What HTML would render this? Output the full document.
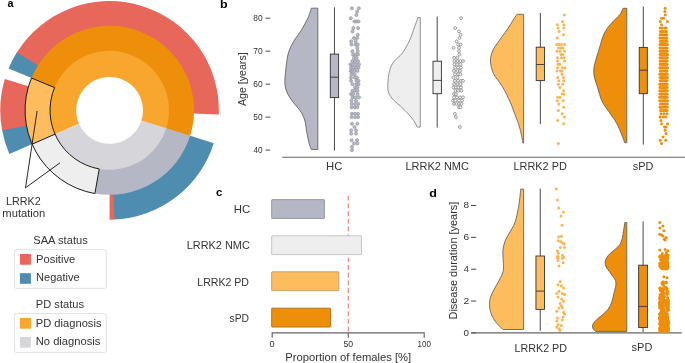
<!DOCTYPE html>
<html><head><meta charset="utf-8"><style>
html,body{margin:0;padding:0;background:#fff;}
svg{display:block;font-family:"Liberation Sans",sans-serif;will-change:transform;}
</style></head><body>
<svg width="685" height="363" viewBox="0 0 685 363">
<rect width="685" height="363" fill="#fff"/>
<path d="M213.79,143.22 A109.3,109.3 0 0 1 113.56,219.58 L112.59,193.29 A83.0,83.0 0 0 0 188.71,135.31 Z" fill="#4E8DB0" />
<path d="M114.51,219.54 A109.3,109.3 0 0 1 109.55,219.65 L109.55,193.35 A83.0,83.0 0 0 0 113.32,193.26 Z" fill="#E8675B" />
<path d="M9.39,154.11 A109.3,109.3 0 0 1 1.91,129.33 L27.81,124.76 A83.0,83.0 0 0 0 33.49,143.58 Z" fill="#4E8DB0" />
<path d="M2.08,130.27 A109.3,109.3 0 0 1 4.81,79.12 L30.01,86.64 A83.0,83.0 0 0 0 27.94,125.48 Z" fill="#E8675B" />
<path d="M8.57,68.52 A109.3,109.3 0 0 1 17.37,51.62 L39.55,65.75 A83.0,83.0 0 0 0 32.87,78.59 Z" fill="#4E8DB0" />
<path d="M16.86,52.43 A109.3,109.3 0 0 1 218.77,114.55 L192.49,113.54 A83.0,83.0 0 0 0 39.16,66.37 Z" fill="#E8675B" />
<path d="M190.36,135.06 A84.5,84.5 0 0 1 94.15,193.44 L98.98,167.38 A58.0,58.0 0 0 0 165.02,127.31 Z" fill="#B6B7C5" />
<path d="M94.88,193.57 A84.5,84.5 0 0 1 31.83,143.50 L56.20,133.11 A58.0,58.0 0 0 0 99.48,167.47 Z" fill="#EEEEEE" />
<path d="M32.12,144.18 A84.5,84.5 0 0 1 31.77,77.33 L56.16,87.69 A58.0,58.0 0 0 0 56.40,133.57 Z" fill="#FDBD5F" />
<path d="M31.48,78.01 A84.5,84.5 0 0 1 190.14,135.76 L164.87,127.79 A58.0,58.0 0 0 0 55.96,88.15 Z" fill="#EE8F0B" />
<path d="M55.03,134.17 A59.5,59.5 0 1 1 166.14,128.74 L141.32,120.67 A33.4,33.4 0 1 0 78.94,123.72 Z" fill="#F9A62F" />
<path d="M166.30,128.24 A59.5,59.5 0 0 1 55.03,134.17 L78.94,123.72 A33.4,33.4 0 0 0 141.40,120.39 Z" fill="#D6D6DA" />
<path d="M94.88,193.57 A84.5,84.5 0 0 1 31.48,78.01 L54.58,87.58 A59.5,59.5 0 0 0 99.22,168.95 Z" fill="none" stroke="#1a1a1a" stroke-width="1"/>
<line x1="55.03" y1="134.17" x2="32.12" y2="144.18" stroke="#1a1a1a" stroke-width="1"/>
<polyline points="37.1,111 25.5,187.8 60,162.8" fill="none" stroke="#1a1a1a" stroke-width="0.95"/>
<text x="6.02" y="204.5" font-size="10.8" textLength="34.62" lengthAdjust="spacingAndGlyphs" fill="#333">LRRK2</text>
<text x="2.36" y="217.3" font-size="10.8" textLength="42.97" lengthAdjust="spacingAndGlyphs" fill="#333">mutation</text>
<rect x="14.6" y="249.6" width="91.6" height="38.7" rx="1.5" fill="#fff" stroke="#E0E0E0" stroke-width="1"/>
<text x="33.20" y="243.8" font-size="10.8" textLength="54.60" lengthAdjust="spacingAndGlyphs" fill="#333">SAA status</text>
<rect x="19.9" y="254.0" width="11" height="10.7" fill="#E8675B"/>
<rect x="19.9" y="273.2" width="11" height="10.6" fill="#4E8DB0"/>
<text x="36.08" y="263" font-size="10.8" textLength="39.22" lengthAdjust="spacingAndGlyphs" fill="#333">Positive</text>
<text x="36.09" y="281" font-size="10.8" textLength="43.60" lengthAdjust="spacingAndGlyphs" fill="#333">Negative</text>
<rect x="14.6" y="313.6" width="91.6" height="38.7" rx="1.5" fill="#fff" stroke="#E0E0E0" stroke-width="1"/>
<text x="35.79" y="307.9" font-size="10.8" textLength="48.21" lengthAdjust="spacingAndGlyphs" fill="#333">PD status</text>
<rect x="19.9" y="317.9" width="11" height="10.8" fill="#F9A62F"/>
<rect x="19.9" y="336.9" width="11" height="10.8" fill="#D6D6DA"/>
<text x="35.79" y="327.3" font-size="10.8" textLength="65.72" lengthAdjust="spacingAndGlyphs" fill="#333">PD diagnosis</text>
<text x="35.78" y="345.1" font-size="10.8" textLength="64.62" lengthAdjust="spacingAndGlyphs" fill="#333">No diagnosis</text>
<text x="7.38" y="7.0" font-size="11.5" textLength="6.05" lengthAdjust="spacingAndGlyphs" fill="#000" font-weight="bold">a</text>
<text x="219.98" y="7.9" font-size="11.5" textLength="7.64" lengthAdjust="spacingAndGlyphs" fill="#000" font-weight="bold">b</text>
<text x="216.06" y="195.6" font-size="11.5" textLength="6.27" lengthAdjust="spacingAndGlyphs" fill="#000" font-weight="bold">c</text>
<text x="429.39" y="196.7" font-size="11.5" textLength="7.64" lengthAdjust="spacingAndGlyphs" fill="#000" font-weight="bold">d</text>
<line x1="265.5" y1="150.10" x2="270.2" y2="150.10" stroke="#333" stroke-width="0.9"/>
<text x="253.51" y="152.8" font-size="8.3" textLength="9.11" lengthAdjust="spacingAndGlyphs" fill="#333">40</text>
<line x1="265.5" y1="117.12" x2="270.2" y2="117.12" stroke="#333" stroke-width="0.9"/>
<text x="253.37" y="119.83" font-size="8.3" textLength="9.26" lengthAdjust="spacingAndGlyphs" fill="#333">50</text>
<line x1="265.5" y1="84.15" x2="270.2" y2="84.15" stroke="#333" stroke-width="0.9"/>
<text x="253.27" y="86.85" font-size="8.3" textLength="9.36" lengthAdjust="spacingAndGlyphs" fill="#333">60</text>
<line x1="265.5" y1="51.17" x2="270.2" y2="51.17" stroke="#333" stroke-width="0.9"/>
<text x="253.27" y="53.88" font-size="8.3" textLength="9.36" lengthAdjust="spacingAndGlyphs" fill="#333">70</text>
<line x1="265.5" y1="18.20" x2="270.2" y2="18.20" stroke="#333" stroke-width="0.9"/>
<text x="253.34" y="20.9" font-size="8.3" textLength="9.29" lengthAdjust="spacingAndGlyphs" fill="#333">80</text>
<text x="0" y="0" font-size="10.8" textLength="53.78" lengthAdjust="spacingAndGlyphs" fill="#333" transform="translate(245.6,106.12) rotate(-90)">Age [years]</text>
<line x1="282.3" y1="157.25" x2="685" y2="157.25" stroke="#666" stroke-width="1.2"/>
<text x="326.08" y="169.8" font-size="10.8" textLength="16.25" lengthAdjust="spacingAndGlyphs" fill="#333">HC</text>
<text x="405.50" y="169.8" font-size="10.8" textLength="63.42" lengthAdjust="spacingAndGlyphs" fill="#333">LRRK2 NMC</text>
<text x="513.51" y="169.8" font-size="10.8" textLength="53.32" lengthAdjust="spacingAndGlyphs" fill="#333">LRRK2 PD</text>
<text x="632.80" y="169.8" font-size="10.8" textLength="20.52" lengthAdjust="spacingAndGlyphs" fill="#333">sPD</text>
<path d="M311.40,8.15 C310.93,9.54 309.62,14.01 308.60,16.50 C307.58,18.99 306.58,20.70 305.30,23.10 C304.02,25.50 302.55,28.32 300.90,30.90 C299.25,33.48 297.05,36.03 295.40,38.60 C293.75,41.17 292.22,43.73 291.00,46.30 C289.78,48.87 288.83,51.25 288.10,54.00 C287.37,56.75 287.03,59.68 286.60,62.80 C286.17,65.92 285.78,69.83 285.50,72.70 C285.22,75.57 284.90,77.42 284.90,80.00 C284.90,82.58 284.85,85.55 285.50,88.20 C286.15,90.85 287.33,93.33 288.80,95.90 C290.27,98.47 292.47,101.20 294.30,103.60 C296.13,106.00 298.33,108.27 299.80,110.30 C301.27,112.33 302.18,113.78 303.10,115.80 C304.02,117.82 304.75,120.02 305.30,122.40 C305.85,124.78 305.93,127.35 306.40,130.10 C306.87,132.85 307.55,136.33 308.10,138.90 C308.65,141.47 309.15,143.73 309.70,145.50 C310.25,147.27 311.12,148.83 311.40,149.50 L317.8,149.50 L317.8,8.15 Z" fill="#B6B7C5" stroke="#555" stroke-width="0.8" stroke-linejoin="round"/>
<line x1="334.45" y1="7.3" x2="334.45" y2="150.6" stroke="#333" stroke-width="0.9"/><rect x="330.3" y="54.1" width="8.3" height="43.49999999999999" fill="#B6B7C5" stroke="#333" stroke-width="0.9"/><line x1="330.3" y1="77.2" x2="338.6" y2="77.2" stroke="#333" stroke-width="0.9"/>
<path d="M417.90,17.60 C417.33,19.20 415.93,23.30 414.50,27.20 C413.07,31.10 411.32,36.70 409.30,41.00 C407.28,45.30 404.98,49.55 402.40,53.00 C399.82,56.45 395.92,58.82 393.80,61.70 C391.68,64.58 390.68,66.87 389.70,70.30 C388.72,73.73 388.08,78.58 387.90,82.30 C387.72,86.02 387.62,89.62 388.60,92.60 C389.58,95.58 391.78,97.90 393.80,100.20 C395.82,102.50 398.12,103.93 400.70,106.40 C403.28,108.87 407.00,112.42 409.30,115.00 C411.60,117.58 413.18,119.88 414.50,121.90 C415.82,123.92 416.75,126.23 417.20,127.10 L420.3,127.10 L420.3,17.60 Z" fill="#EEEEEE" stroke="#777" stroke-width="0.8" stroke-linejoin="round"/>
<line x1="437.2" y1="16.6" x2="437.2" y2="127.5" stroke="#333" stroke-width="0.9"/><rect x="433.0" y="61.2" width="8.4" height="32.5" fill="#EEEEEE" stroke="#333" stroke-width="0.9"/><line x1="433.0" y1="80.4" x2="441.4" y2="80.4" stroke="#333" stroke-width="0.9"/>
<path d="M517.00,14.30 C516.32,15.33 514.45,18.08 512.90,20.50 C511.35,22.92 509.43,26.22 507.70,28.80 C505.97,31.38 504.22,33.60 502.50,36.00 C500.78,38.40 498.93,40.97 497.40,43.20 C495.87,45.43 494.40,47.15 493.30,49.40 C492.20,51.65 491.25,54.45 490.80,56.70 C490.35,58.95 490.37,60.67 490.60,62.90 C490.83,65.13 491.45,67.83 492.20,70.10 C492.95,72.37 493.88,74.48 495.10,76.50 C496.32,78.52 497.92,79.87 499.50,82.20 C501.08,84.53 503.07,87.73 504.60,90.50 C506.13,93.27 507.50,96.22 508.70,98.80 C509.90,101.38 510.77,103.42 511.80,106.00 C512.83,108.58 513.87,111.55 514.90,114.30 C515.93,117.05 517.07,119.75 518.00,122.50 C518.93,125.25 519.80,128.05 520.50,130.80 C521.20,133.55 521.82,136.95 522.20,139.00 C522.58,141.05 522.70,142.42 522.80,143.10 L523.6,143.10 L523.6,14.30 Z" fill="#FDBD5F" stroke="#555" stroke-width="0.8" stroke-linejoin="round"/>
<line x1="540.35" y1="13" x2="540.35" y2="124.2" stroke="#333" stroke-width="0.9"/><rect x="536.2" y="47.2" width="8.3" height="33.39999999999999" fill="#FDBD5F" stroke="#333" stroke-width="0.9"/><line x1="536.2" y1="64.5" x2="544.5" y2="64.5" stroke="#333" stroke-width="0.9"/>
<path d="M623.10,8.30 C622.58,9.33 621.55,12.43 620.00,14.50 C618.45,16.57 615.87,18.47 613.80,20.70 C611.73,22.93 609.32,25.50 607.60,27.90 C605.88,30.30 604.63,32.52 603.50,35.10 C602.37,37.68 601.67,40.63 600.80,43.40 C599.93,46.17 599.13,48.95 598.30,51.70 C597.47,54.45 596.48,57.50 595.80,59.90 C595.12,62.30 594.53,64.08 594.20,66.10 C593.87,68.12 593.73,69.97 593.80,72.00 C593.87,74.03 594.02,75.88 594.60,78.30 C595.18,80.72 596.33,83.40 597.30,86.50 C598.27,89.60 599.37,93.97 600.40,96.90 C601.43,99.83 602.13,101.70 603.50,104.10 C604.87,106.50 606.88,108.88 608.60,111.30 C610.32,113.72 612.25,116.18 613.80,118.60 C615.35,121.02 616.70,123.40 617.90,125.80 C619.10,128.20 620.07,130.77 621.00,133.00 C621.93,135.23 622.88,137.58 623.50,139.20 C624.12,140.82 624.50,142.12 624.70,142.70 L626.8,142.70 L626.8,8.30 Z" fill="#EE8F0B" stroke="#555" stroke-width="0.8" stroke-linejoin="round"/>
<line x1="643.3" y1="6.6" x2="643.3" y2="144.6" stroke="#333" stroke-width="0.9"/><rect x="639.25" y="47.4" width="8.1" height="46.300000000000004" fill="#EE8F0B" stroke="#333" stroke-width="0.9"/><line x1="639.25" y1="70.2" x2="647.35" y2="70.2" stroke="#333" stroke-width="0.9"/>
<circle cx="351.90" cy="8.31" r="1.55" fill="#B9BAC8" stroke="#8A8B98" stroke-width="0.6"/><circle cx="358.80" cy="8.31" r="1.55" fill="#B9BAC8" stroke="#8A8B98" stroke-width="0.6"/><circle cx="357.10" cy="11.60" r="1.55" fill="#B9BAC8" stroke="#8A8B98" stroke-width="0.6"/><circle cx="356.40" cy="14.90" r="1.55" fill="#B9BAC8" stroke="#8A8B98" stroke-width="0.6"/><circle cx="350.80" cy="18.20" r="1.55" fill="#B9BAC8" stroke="#8A8B98" stroke-width="0.6"/><circle cx="354.40" cy="21.50" r="1.55" fill="#B9BAC8" stroke="#8A8B98" stroke-width="0.6"/><circle cx="356.30" cy="21.50" r="1.55" fill="#B9BAC8" stroke="#8A8B98" stroke-width="0.6"/><circle cx="358.50" cy="21.50" r="1.55" fill="#B9BAC8" stroke="#8A8B98" stroke-width="0.6"/><circle cx="353.30" cy="28.09" r="1.55" fill="#B9BAC8" stroke="#8A8B98" stroke-width="0.6"/><circle cx="358.10" cy="28.09" r="1.55" fill="#B9BAC8" stroke="#8A8B98" stroke-width="0.6"/><circle cx="352.60" cy="31.39" r="1.55" fill="#B9BAC8" stroke="#8A8B98" stroke-width="0.6"/><circle cx="357.70" cy="34.69" r="1.55" fill="#B9BAC8" stroke="#8A8B98" stroke-width="0.6"/><circle cx="354.00" cy="37.98" r="1.55" fill="#B9BAC8" stroke="#8A8B98" stroke-width="0.6"/><circle cx="357.10" cy="37.98" r="1.55" fill="#B9BAC8" stroke="#8A8B98" stroke-width="0.6"/><circle cx="351.20" cy="41.28" r="1.55" fill="#B9BAC8" stroke="#8A8B98" stroke-width="0.6"/><circle cx="355.70" cy="41.28" r="1.55" fill="#B9BAC8" stroke="#8A8B98" stroke-width="0.6"/><circle cx="351.50" cy="44.58" r="1.55" fill="#B9BAC8" stroke="#8A8B98" stroke-width="0.6"/><circle cx="355.50" cy="44.58" r="1.55" fill="#B9BAC8" stroke="#8A8B98" stroke-width="0.6"/><circle cx="357.70" cy="44.58" r="1.55" fill="#B9BAC8" stroke="#8A8B98" stroke-width="0.6"/><circle cx="357.30" cy="47.88" r="1.55" fill="#B9BAC8" stroke="#8A8B98" stroke-width="0.6"/><circle cx="352.40" cy="51.17" r="1.55" fill="#B9BAC8" stroke="#8A8B98" stroke-width="0.6"/><circle cx="357.70" cy="51.17" r="1.55" fill="#B9BAC8" stroke="#8A8B98" stroke-width="0.6"/><circle cx="353.00" cy="54.47" r="1.55" fill="#B9BAC8" stroke="#8A8B98" stroke-width="0.6"/><circle cx="355.50" cy="54.47" r="1.55" fill="#B9BAC8" stroke="#8A8B98" stroke-width="0.6"/><circle cx="358.00" cy="54.47" r="1.55" fill="#B9BAC8" stroke="#8A8B98" stroke-width="0.6"/><circle cx="354.00" cy="57.77" r="1.55" fill="#B9BAC8" stroke="#8A8B98" stroke-width="0.6"/><circle cx="356.50" cy="57.77" r="1.55" fill="#B9BAC8" stroke="#8A8B98" stroke-width="0.6"/><circle cx="352.50" cy="61.07" r="1.55" fill="#B9BAC8" stroke="#8A8B98" stroke-width="0.6"/><circle cx="355.00" cy="61.07" r="1.55" fill="#B9BAC8" stroke="#8A8B98" stroke-width="0.6"/><circle cx="358.00" cy="61.07" r="1.55" fill="#B9BAC8" stroke="#8A8B98" stroke-width="0.6"/><circle cx="350.50" cy="64.36" r="1.55" fill="#B9BAC8" stroke="#8A8B98" stroke-width="0.6"/><circle cx="353.00" cy="64.36" r="1.55" fill="#B9BAC8" stroke="#8A8B98" stroke-width="0.6"/><circle cx="356.00" cy="64.36" r="1.55" fill="#B9BAC8" stroke="#8A8B98" stroke-width="0.6"/><circle cx="359.00" cy="64.36" r="1.55" fill="#B9BAC8" stroke="#8A8B98" stroke-width="0.6"/><circle cx="351.00" cy="67.66" r="1.55" fill="#B9BAC8" stroke="#8A8B98" stroke-width="0.6"/><circle cx="353.50" cy="67.66" r="1.55" fill="#B9BAC8" stroke="#8A8B98" stroke-width="0.6"/><circle cx="356.00" cy="67.66" r="1.55" fill="#B9BAC8" stroke="#8A8B98" stroke-width="0.6"/><circle cx="358.50" cy="67.66" r="1.55" fill="#B9BAC8" stroke="#8A8B98" stroke-width="0.6"/><circle cx="350.80" cy="70.96" r="1.55" fill="#B9BAC8" stroke="#8A8B98" stroke-width="0.6"/><circle cx="352.30" cy="70.96" r="1.55" fill="#B9BAC8" stroke="#8A8B98" stroke-width="0.6"/><circle cx="354.50" cy="70.96" r="1.55" fill="#B9BAC8" stroke="#8A8B98" stroke-width="0.6"/><circle cx="357.50" cy="70.96" r="1.55" fill="#B9BAC8" stroke="#8A8B98" stroke-width="0.6"/><circle cx="351.50" cy="74.26" r="1.55" fill="#B9BAC8" stroke="#8A8B98" stroke-width="0.6"/><circle cx="354.50" cy="74.26" r="1.55" fill="#B9BAC8" stroke="#8A8B98" stroke-width="0.6"/><circle cx="351.00" cy="77.55" r="1.55" fill="#B9BAC8" stroke="#8A8B98" stroke-width="0.6"/><circle cx="355.00" cy="77.55" r="1.55" fill="#B9BAC8" stroke="#8A8B98" stroke-width="0.6"/><circle cx="357.00" cy="77.55" r="1.55" fill="#B9BAC8" stroke="#8A8B98" stroke-width="0.6"/><circle cx="351.00" cy="80.85" r="1.55" fill="#B9BAC8" stroke="#8A8B98" stroke-width="0.6"/><circle cx="356.50" cy="80.85" r="1.55" fill="#B9BAC8" stroke="#8A8B98" stroke-width="0.6"/><circle cx="358.50" cy="80.85" r="1.55" fill="#B9BAC8" stroke="#8A8B98" stroke-width="0.6"/><circle cx="352.50" cy="84.15" r="1.55" fill="#B9BAC8" stroke="#8A8B98" stroke-width="0.6"/><circle cx="356.50" cy="84.15" r="1.55" fill="#B9BAC8" stroke="#8A8B98" stroke-width="0.6"/><circle cx="358.50" cy="84.15" r="1.55" fill="#B9BAC8" stroke="#8A8B98" stroke-width="0.6"/><circle cx="355.00" cy="87.45" r="1.55" fill="#B9BAC8" stroke="#8A8B98" stroke-width="0.6"/><circle cx="357.50" cy="87.45" r="1.55" fill="#B9BAC8" stroke="#8A8B98" stroke-width="0.6"/><circle cx="352.50" cy="90.75" r="1.55" fill="#B9BAC8" stroke="#8A8B98" stroke-width="0.6"/><circle cx="355.00" cy="90.75" r="1.55" fill="#B9BAC8" stroke="#8A8B98" stroke-width="0.6"/><circle cx="357.50" cy="90.75" r="1.55" fill="#B9BAC8" stroke="#8A8B98" stroke-width="0.6"/><circle cx="351.00" cy="94.04" r="1.55" fill="#B9BAC8" stroke="#8A8B98" stroke-width="0.6"/><circle cx="353.20" cy="94.04" r="1.55" fill="#B9BAC8" stroke="#8A8B98" stroke-width="0.6"/><circle cx="357.50" cy="94.04" r="1.55" fill="#B9BAC8" stroke="#8A8B98" stroke-width="0.6"/><circle cx="352.50" cy="97.34" r="1.55" fill="#B9BAC8" stroke="#8A8B98" stroke-width="0.6"/><circle cx="355.50" cy="97.34" r="1.55" fill="#B9BAC8" stroke="#8A8B98" stroke-width="0.6"/><circle cx="359.00" cy="97.34" r="1.55" fill="#B9BAC8" stroke="#8A8B98" stroke-width="0.6"/><circle cx="351.50" cy="100.64" r="1.55" fill="#B9BAC8" stroke="#8A8B98" stroke-width="0.6"/><circle cx="356.00" cy="100.64" r="1.55" fill="#B9BAC8" stroke="#8A8B98" stroke-width="0.6"/><circle cx="351.60" cy="103.94" r="1.55" fill="#B9BAC8" stroke="#8A8B98" stroke-width="0.6"/><circle cx="354.90" cy="103.94" r="1.55" fill="#B9BAC8" stroke="#8A8B98" stroke-width="0.6"/><circle cx="358.20" cy="103.94" r="1.55" fill="#B9BAC8" stroke="#8A8B98" stroke-width="0.6"/><circle cx="351.60" cy="107.23" r="1.55" fill="#B9BAC8" stroke="#8A8B98" stroke-width="0.6"/><circle cx="354.90" cy="107.23" r="1.55" fill="#B9BAC8" stroke="#8A8B98" stroke-width="0.6"/><circle cx="357.40" cy="107.23" r="1.55" fill="#B9BAC8" stroke="#8A8B98" stroke-width="0.6"/><circle cx="352.00" cy="113.83" r="1.55" fill="#B9BAC8" stroke="#8A8B98" stroke-width="0.6"/><circle cx="355.00" cy="113.83" r="1.55" fill="#B9BAC8" stroke="#8A8B98" stroke-width="0.6"/><circle cx="358.00" cy="113.83" r="1.55" fill="#B9BAC8" stroke="#8A8B98" stroke-width="0.6"/><circle cx="351.60" cy="117.12" r="1.55" fill="#B9BAC8" stroke="#8A8B98" stroke-width="0.6"/><circle cx="355.30" cy="117.12" r="1.55" fill="#B9BAC8" stroke="#8A8B98" stroke-width="0.6"/><circle cx="358.20" cy="117.12" r="1.55" fill="#B9BAC8" stroke="#8A8B98" stroke-width="0.6"/><circle cx="352.00" cy="123.72" r="1.55" fill="#B9BAC8" stroke="#8A8B98" stroke-width="0.6"/><circle cx="357.40" cy="123.72" r="1.55" fill="#B9BAC8" stroke="#8A8B98" stroke-width="0.6"/><circle cx="354.50" cy="127.02" r="1.55" fill="#B9BAC8" stroke="#8A8B98" stroke-width="0.6"/><circle cx="351.20" cy="130.31" r="1.55" fill="#B9BAC8" stroke="#8A8B98" stroke-width="0.6"/><circle cx="356.00" cy="130.31" r="1.55" fill="#B9BAC8" stroke="#8A8B98" stroke-width="0.6"/><circle cx="351.20" cy="133.61" r="1.55" fill="#B9BAC8" stroke="#8A8B98" stroke-width="0.6"/><circle cx="356.00" cy="133.61" r="1.55" fill="#B9BAC8" stroke="#8A8B98" stroke-width="0.6"/><circle cx="351.60" cy="140.21" r="1.55" fill="#B9BAC8" stroke="#8A8B98" stroke-width="0.6"/><circle cx="357.00" cy="140.21" r="1.55" fill="#B9BAC8" stroke="#8A8B98" stroke-width="0.6"/><circle cx="354.00" cy="143.50" r="1.55" fill="#B9BAC8" stroke="#8A8B98" stroke-width="0.6"/><circle cx="357.40" cy="143.50" r="1.55" fill="#B9BAC8" stroke="#8A8B98" stroke-width="0.6"/><circle cx="352.00" cy="146.80" r="1.55" fill="#B9BAC8" stroke="#8A8B98" stroke-width="0.6"/><circle cx="352.00" cy="150.10" r="1.55" fill="#B9BAC8" stroke="#8A8B98" stroke-width="0.6"/>
<circle cx="461.00" cy="18.20" r="1.45" fill="#F4F4F4" stroke="#6A6A6A" stroke-width="0.6"/><circle cx="455.20" cy="28.09" r="1.45" fill="#F4F4F4" stroke="#6A6A6A" stroke-width="0.6"/><circle cx="459.00" cy="31.39" r="1.45" fill="#F4F4F4" stroke="#6A6A6A" stroke-width="0.6"/><circle cx="460.70" cy="34.69" r="1.45" fill="#F4F4F4" stroke="#6A6A6A" stroke-width="0.6"/><circle cx="459.50" cy="37.98" r="1.45" fill="#F4F4F4" stroke="#6A6A6A" stroke-width="0.6"/><circle cx="456.60" cy="41.28" r="1.45" fill="#F4F4F4" stroke="#6A6A6A" stroke-width="0.6"/><circle cx="458.20" cy="44.58" r="1.45" fill="#F4F4F4" stroke="#6A6A6A" stroke-width="0.6"/><circle cx="460.70" cy="44.58" r="1.45" fill="#F4F4F4" stroke="#6A6A6A" stroke-width="0.6"/><circle cx="453.60" cy="47.88" r="1.45" fill="#F4F4F4" stroke="#6A6A6A" stroke-width="0.6"/><circle cx="459.00" cy="47.88" r="1.45" fill="#F4F4F4" stroke="#6A6A6A" stroke-width="0.6"/><circle cx="459.00" cy="51.17" r="1.45" fill="#F4F4F4" stroke="#6A6A6A" stroke-width="0.6"/><circle cx="459.50" cy="54.47" r="1.45" fill="#F4F4F4" stroke="#6A6A6A" stroke-width="0.6"/><circle cx="454.10" cy="57.77" r="1.45" fill="#F4F4F4" stroke="#6A6A6A" stroke-width="0.6"/><circle cx="457.40" cy="57.77" r="1.45" fill="#F4F4F4" stroke="#6A6A6A" stroke-width="0.6"/><circle cx="454.50" cy="61.07" r="1.45" fill="#F4F4F4" stroke="#6A6A6A" stroke-width="0.6"/><circle cx="457.50" cy="61.07" r="1.45" fill="#F4F4F4" stroke="#6A6A6A" stroke-width="0.6"/><circle cx="460.50" cy="61.07" r="1.45" fill="#F4F4F4" stroke="#6A6A6A" stroke-width="0.6"/><circle cx="463.00" cy="61.07" r="1.45" fill="#F4F4F4" stroke="#6A6A6A" stroke-width="0.6"/><circle cx="454.50" cy="64.36" r="1.45" fill="#F4F4F4" stroke="#6A6A6A" stroke-width="0.6"/><circle cx="457.50" cy="64.36" r="1.45" fill="#F4F4F4" stroke="#6A6A6A" stroke-width="0.6"/><circle cx="460.50" cy="64.36" r="1.45" fill="#F4F4F4" stroke="#6A6A6A" stroke-width="0.6"/><circle cx="455.00" cy="67.66" r="1.45" fill="#F4F4F4" stroke="#6A6A6A" stroke-width="0.6"/><circle cx="458.00" cy="67.66" r="1.45" fill="#F4F4F4" stroke="#6A6A6A" stroke-width="0.6"/><circle cx="461.00" cy="67.66" r="1.45" fill="#F4F4F4" stroke="#6A6A6A" stroke-width="0.6"/><circle cx="454.00" cy="70.96" r="1.45" fill="#F4F4F4" stroke="#6A6A6A" stroke-width="0.6"/><circle cx="457.50" cy="70.96" r="1.45" fill="#F4F4F4" stroke="#6A6A6A" stroke-width="0.6"/><circle cx="460.00" cy="70.96" r="1.45" fill="#F4F4F4" stroke="#6A6A6A" stroke-width="0.6"/><circle cx="455.00" cy="74.26" r="1.45" fill="#F4F4F4" stroke="#6A6A6A" stroke-width="0.6"/><circle cx="458.00" cy="74.26" r="1.45" fill="#F4F4F4" stroke="#6A6A6A" stroke-width="0.6"/><circle cx="460.50" cy="74.26" r="1.45" fill="#F4F4F4" stroke="#6A6A6A" stroke-width="0.6"/><circle cx="453.50" cy="77.55" r="1.45" fill="#F4F4F4" stroke="#6A6A6A" stroke-width="0.6"/><circle cx="457.50" cy="77.55" r="1.45" fill="#F4F4F4" stroke="#6A6A6A" stroke-width="0.6"/><circle cx="455.00" cy="80.85" r="1.45" fill="#F4F4F4" stroke="#6A6A6A" stroke-width="0.6"/><circle cx="458.00" cy="80.85" r="1.45" fill="#F4F4F4" stroke="#6A6A6A" stroke-width="0.6"/><circle cx="461.00" cy="80.85" r="1.45" fill="#F4F4F4" stroke="#6A6A6A" stroke-width="0.6"/><circle cx="463.00" cy="80.85" r="1.45" fill="#F4F4F4" stroke="#6A6A6A" stroke-width="0.6"/><circle cx="454.00" cy="84.15" r="1.45" fill="#F4F4F4" stroke="#6A6A6A" stroke-width="0.6"/><circle cx="457.50" cy="84.15" r="1.45" fill="#F4F4F4" stroke="#6A6A6A" stroke-width="0.6"/><circle cx="460.50" cy="84.15" r="1.45" fill="#F4F4F4" stroke="#6A6A6A" stroke-width="0.6"/><circle cx="453.50" cy="87.45" r="1.45" fill="#F4F4F4" stroke="#6A6A6A" stroke-width="0.6"/><circle cx="456.00" cy="87.45" r="1.45" fill="#F4F4F4" stroke="#6A6A6A" stroke-width="0.6"/><circle cx="458.50" cy="87.45" r="1.45" fill="#F4F4F4" stroke="#6A6A6A" stroke-width="0.6"/><circle cx="461.00" cy="87.45" r="1.45" fill="#F4F4F4" stroke="#6A6A6A" stroke-width="0.6"/><circle cx="455.50" cy="90.75" r="1.45" fill="#F4F4F4" stroke="#6A6A6A" stroke-width="0.6"/><circle cx="458.50" cy="90.75" r="1.45" fill="#F4F4F4" stroke="#6A6A6A" stroke-width="0.6"/><circle cx="461.50" cy="90.75" r="1.45" fill="#F4F4F4" stroke="#6A6A6A" stroke-width="0.6"/><circle cx="454.00" cy="94.04" r="1.45" fill="#F4F4F4" stroke="#6A6A6A" stroke-width="0.6"/><circle cx="456.00" cy="94.04" r="1.45" fill="#F4F4F4" stroke="#6A6A6A" stroke-width="0.6"/><circle cx="454.00" cy="97.34" r="1.45" fill="#F4F4F4" stroke="#6A6A6A" stroke-width="0.6"/><circle cx="457.00" cy="97.34" r="1.45" fill="#F4F4F4" stroke="#6A6A6A" stroke-width="0.6"/><circle cx="460.00" cy="97.34" r="1.45" fill="#F4F4F4" stroke="#6A6A6A" stroke-width="0.6"/><circle cx="463.00" cy="97.34" r="1.45" fill="#F4F4F4" stroke="#6A6A6A" stroke-width="0.6"/><circle cx="453.00" cy="100.64" r="1.45" fill="#F4F4F4" stroke="#6A6A6A" stroke-width="0.6"/><circle cx="455.50" cy="100.64" r="1.45" fill="#F4F4F4" stroke="#6A6A6A" stroke-width="0.6"/><circle cx="459.00" cy="100.64" r="1.45" fill="#F4F4F4" stroke="#6A6A6A" stroke-width="0.6"/><circle cx="462.00" cy="100.64" r="1.45" fill="#F4F4F4" stroke="#6A6A6A" stroke-width="0.6"/><circle cx="454.00" cy="103.94" r="1.45" fill="#F4F4F4" stroke="#6A6A6A" stroke-width="0.6"/><circle cx="456.50" cy="103.94" r="1.45" fill="#F4F4F4" stroke="#6A6A6A" stroke-width="0.6"/><circle cx="459.00" cy="103.94" r="1.45" fill="#F4F4F4" stroke="#6A6A6A" stroke-width="0.6"/><circle cx="461.50" cy="103.94" r="1.45" fill="#F4F4F4" stroke="#6A6A6A" stroke-width="0.6"/><circle cx="459.00" cy="107.23" r="1.45" fill="#F4F4F4" stroke="#6A6A6A" stroke-width="0.6"/><circle cx="460.50" cy="107.23" r="1.45" fill="#F4F4F4" stroke="#6A6A6A" stroke-width="0.6"/><circle cx="454.90" cy="113.83" r="1.45" fill="#F4F4F4" stroke="#6A6A6A" stroke-width="0.6"/><circle cx="455.90" cy="117.12" r="1.45" fill="#F4F4F4" stroke="#6A6A6A" stroke-width="0.6"/><circle cx="459.90" cy="127.02" r="1.45" fill="#F4F4F4" stroke="#6A6A6A" stroke-width="0.6"/>
<circle cx="564.40" cy="14.90" r="1.5" fill="#FBB454"/><circle cx="562.50" cy="21.50" r="1.5" fill="#FBB454"/><circle cx="557.30" cy="24.80" r="1.5" fill="#FBB454"/><circle cx="563.80" cy="24.80" r="1.5" fill="#FBB454"/><circle cx="558.10" cy="28.09" r="1.5" fill="#FBB454"/><circle cx="563.80" cy="28.09" r="1.5" fill="#FBB454"/><circle cx="559.20" cy="31.39" r="1.5" fill="#FBB454"/><circle cx="563.50" cy="34.69" r="1.5" fill="#FBB454"/><circle cx="557.30" cy="37.98" r="1.5" fill="#FBB454"/><circle cx="556.60" cy="44.58" r="1.5" fill="#FBB454"/><circle cx="559.00" cy="44.58" r="1.5" fill="#FBB454"/><circle cx="561.50" cy="44.58" r="1.5" fill="#FBB454"/><circle cx="564.50" cy="44.58" r="1.5" fill="#FBB454"/><circle cx="558.50" cy="47.88" r="1.5" fill="#FBB454"/><circle cx="561.00" cy="47.88" r="1.5" fill="#FBB454"/><circle cx="563.00" cy="47.88" r="1.5" fill="#FBB454"/><circle cx="557.00" cy="51.17" r="1.5" fill="#FBB454"/><circle cx="560.00" cy="51.17" r="1.5" fill="#FBB454"/><circle cx="564.50" cy="51.17" r="1.5" fill="#FBB454"/><circle cx="561.00" cy="54.47" r="1.5" fill="#FBB454"/><circle cx="563.00" cy="54.47" r="1.5" fill="#FBB454"/><circle cx="557.50" cy="57.77" r="1.5" fill="#FBB454"/><circle cx="561.50" cy="57.77" r="1.5" fill="#FBB454"/><circle cx="564.00" cy="57.77" r="1.5" fill="#FBB454"/><circle cx="557.50" cy="61.07" r="1.5" fill="#FBB454"/><circle cx="564.50" cy="61.07" r="1.5" fill="#FBB454"/><circle cx="558.00" cy="64.36" r="1.5" fill="#FBB454"/><circle cx="559.80" cy="64.36" r="1.5" fill="#FBB454"/><circle cx="557.50" cy="67.66" r="1.5" fill="#FBB454"/><circle cx="562.30" cy="67.66" r="1.5" fill="#FBB454"/><circle cx="565.00" cy="67.66" r="1.5" fill="#FBB454"/><circle cx="557.00" cy="70.96" r="1.5" fill="#FBB454"/><circle cx="560.50" cy="70.96" r="1.5" fill="#FBB454"/><circle cx="562.00" cy="70.96" r="1.5" fill="#FBB454"/><circle cx="562.00" cy="74.26" r="1.5" fill="#FBB454"/><circle cx="557.70" cy="77.55" r="1.5" fill="#FBB454"/><circle cx="563.30" cy="77.55" r="1.5" fill="#FBB454"/><circle cx="558.80" cy="80.85" r="1.5" fill="#FBB454"/><circle cx="563.70" cy="80.85" r="1.5" fill="#FBB454"/><circle cx="558.40" cy="84.15" r="1.5" fill="#FBB454"/><circle cx="562.80" cy="84.15" r="1.5" fill="#FBB454"/><circle cx="560.00" cy="87.45" r="1.5" fill="#FBB454"/><circle cx="563.70" cy="90.75" r="1.5" fill="#FBB454"/><circle cx="562.20" cy="94.04" r="1.5" fill="#FBB454"/><circle cx="563.70" cy="94.04" r="1.5" fill="#FBB454"/><circle cx="557.70" cy="97.34" r="1.5" fill="#FBB454"/><circle cx="560.00" cy="97.34" r="1.5" fill="#FBB454"/><circle cx="557.30" cy="100.64" r="1.5" fill="#FBB454"/><circle cx="563.30" cy="100.64" r="1.5" fill="#FBB454"/><circle cx="558.80" cy="103.94" r="1.5" fill="#FBB454"/><circle cx="563.70" cy="107.23" r="1.5" fill="#FBB454"/><circle cx="558.40" cy="110.53" r="1.5" fill="#FBB454"/><circle cx="562.20" cy="113.83" r="1.5" fill="#FBB454"/><circle cx="564.40" cy="117.12" r="1.5" fill="#FBB454"/><circle cx="557.70" cy="120.42" r="1.5" fill="#FBB454"/><circle cx="563.70" cy="123.72" r="1.5" fill="#FBB454"/><circle cx="558.40" cy="143.50" r="1.5" fill="#FBB454"/>
<circle cx="665.20" cy="8.31" r="1.5" fill="#EE8E0B"/><circle cx="664.80" cy="11.60" r="1.5" fill="#EE8E0B"/><circle cx="665.20" cy="14.90" r="1.5" fill="#EE8E0B"/><circle cx="661.50" cy="18.20" r="1.5" fill="#EE8E0B"/><circle cx="663.50" cy="18.20" r="1.5" fill="#EE8E0B"/><circle cx="660.20" cy="21.50" r="1.5" fill="#EE8E0B"/><circle cx="667.30" cy="21.50" r="1.5" fill="#EE8E0B"/><circle cx="661.50" cy="24.80" r="1.5" fill="#EE8E0B"/><circle cx="660.28" cy="28.09" r="1.5" fill="#EE8E0B"/><circle cx="662.11" cy="28.09" r="1.5" fill="#EE8E0B"/><circle cx="664.91" cy="28.09" r="1.5" fill="#EE8E0B"/><circle cx="666.14" cy="28.09" r="1.5" fill="#EE8E0B"/><circle cx="660.37" cy="31.39" r="1.5" fill="#EE8E0B"/><circle cx="661.83" cy="31.39" r="1.5" fill="#EE8E0B"/><circle cx="663.14" cy="31.39" r="1.5" fill="#EE8E0B"/><circle cx="665.32" cy="31.39" r="1.5" fill="#EE8E0B"/><circle cx="666.43" cy="31.39" r="1.5" fill="#EE8E0B"/><circle cx="660.13" cy="34.69" r="1.5" fill="#EE8E0B"/><circle cx="661.16" cy="34.69" r="1.5" fill="#EE8E0B"/><circle cx="662.56" cy="34.69" r="1.5" fill="#EE8E0B"/><circle cx="664.27" cy="34.69" r="1.5" fill="#EE8E0B"/><circle cx="666.04" cy="34.69" r="1.5" fill="#EE8E0B"/><circle cx="666.74" cy="34.69" r="1.5" fill="#EE8E0B"/><circle cx="659.86" cy="37.98" r="1.5" fill="#EE8E0B"/><circle cx="661.38" cy="37.98" r="1.5" fill="#EE8E0B"/><circle cx="662.84" cy="37.98" r="1.5" fill="#EE8E0B"/><circle cx="663.71" cy="37.98" r="1.5" fill="#EE8E0B"/><circle cx="664.75" cy="37.98" r="1.5" fill="#EE8E0B"/><circle cx="666.42" cy="37.98" r="1.5" fill="#EE8E0B"/><circle cx="666.83" cy="37.98" r="1.5" fill="#EE8E0B"/><circle cx="660.39" cy="41.28" r="1.5" fill="#EE8E0B"/><circle cx="661.10" cy="41.28" r="1.5" fill="#EE8E0B"/><circle cx="662.17" cy="41.28" r="1.5" fill="#EE8E0B"/><circle cx="663.33" cy="41.28" r="1.5" fill="#EE8E0B"/><circle cx="664.68" cy="41.28" r="1.5" fill="#EE8E0B"/><circle cx="666.28" cy="41.28" r="1.5" fill="#EE8E0B"/><circle cx="666.94" cy="41.28" r="1.5" fill="#EE8E0B"/><circle cx="660.08" cy="44.58" r="1.5" fill="#EE8E0B"/><circle cx="661.16" cy="44.58" r="1.5" fill="#EE8E0B"/><circle cx="662.00" cy="44.58" r="1.5" fill="#EE8E0B"/><circle cx="663.17" cy="44.58" r="1.5" fill="#EE8E0B"/><circle cx="663.85" cy="44.58" r="1.5" fill="#EE8E0B"/><circle cx="664.89" cy="44.58" r="1.5" fill="#EE8E0B"/><circle cx="666.03" cy="44.58" r="1.5" fill="#EE8E0B"/><circle cx="667.41" cy="44.58" r="1.5" fill="#EE8E0B"/><circle cx="659.97" cy="47.88" r="1.5" fill="#EE8E0B"/><circle cx="660.92" cy="47.88" r="1.5" fill="#EE8E0B"/><circle cx="662.16" cy="47.88" r="1.5" fill="#EE8E0B"/><circle cx="663.10" cy="47.88" r="1.5" fill="#EE8E0B"/><circle cx="664.02" cy="47.88" r="1.5" fill="#EE8E0B"/><circle cx="665.42" cy="47.88" r="1.5" fill="#EE8E0B"/><circle cx="666.39" cy="47.88" r="1.5" fill="#EE8E0B"/><circle cx="667.10" cy="47.88" r="1.5" fill="#EE8E0B"/><circle cx="660.07" cy="51.17" r="1.5" fill="#EE8E0B"/><circle cx="661.07" cy="51.17" r="1.5" fill="#EE8E0B"/><circle cx="662.37" cy="51.17" r="1.5" fill="#EE8E0B"/><circle cx="663.30" cy="51.17" r="1.5" fill="#EE8E0B"/><circle cx="664.01" cy="51.17" r="1.5" fill="#EE8E0B"/><circle cx="665.55" cy="51.17" r="1.5" fill="#EE8E0B"/><circle cx="665.97" cy="51.17" r="1.5" fill="#EE8E0B"/><circle cx="667.22" cy="51.17" r="1.5" fill="#EE8E0B"/><circle cx="660.21" cy="54.47" r="1.5" fill="#EE8E0B"/><circle cx="660.80" cy="54.47" r="1.5" fill="#EE8E0B"/><circle cx="662.09" cy="54.47" r="1.5" fill="#EE8E0B"/><circle cx="662.80" cy="54.47" r="1.5" fill="#EE8E0B"/><circle cx="664.29" cy="54.47" r="1.5" fill="#EE8E0B"/><circle cx="665.40" cy="54.47" r="1.5" fill="#EE8E0B"/><circle cx="666.30" cy="54.47" r="1.5" fill="#EE8E0B"/><circle cx="667.55" cy="54.47" r="1.5" fill="#EE8E0B"/><circle cx="659.88" cy="57.77" r="1.5" fill="#EE8E0B"/><circle cx="661.20" cy="57.77" r="1.5" fill="#EE8E0B"/><circle cx="662.16" cy="57.77" r="1.5" fill="#EE8E0B"/><circle cx="663.19" cy="57.77" r="1.5" fill="#EE8E0B"/><circle cx="664.14" cy="57.77" r="1.5" fill="#EE8E0B"/><circle cx="665.45" cy="57.77" r="1.5" fill="#EE8E0B"/><circle cx="666.57" cy="57.77" r="1.5" fill="#EE8E0B"/><circle cx="667.26" cy="57.77" r="1.5" fill="#EE8E0B"/><circle cx="660.14" cy="61.07" r="1.5" fill="#EE8E0B"/><circle cx="660.74" cy="61.07" r="1.5" fill="#EE8E0B"/><circle cx="662.24" cy="61.07" r="1.5" fill="#EE8E0B"/><circle cx="663.24" cy="61.07" r="1.5" fill="#EE8E0B"/><circle cx="664.53" cy="61.07" r="1.5" fill="#EE8E0B"/><circle cx="665.44" cy="61.07" r="1.5" fill="#EE8E0B"/><circle cx="666.09" cy="61.07" r="1.5" fill="#EE8E0B"/><circle cx="667.20" cy="61.07" r="1.5" fill="#EE8E0B"/><circle cx="660.14" cy="64.36" r="1.5" fill="#EE8E0B"/><circle cx="660.71" cy="64.36" r="1.5" fill="#EE8E0B"/><circle cx="662.07" cy="64.36" r="1.5" fill="#EE8E0B"/><circle cx="662.89" cy="64.36" r="1.5" fill="#EE8E0B"/><circle cx="663.89" cy="64.36" r="1.5" fill="#EE8E0B"/><circle cx="664.89" cy="64.36" r="1.5" fill="#EE8E0B"/><circle cx="666.44" cy="64.36" r="1.5" fill="#EE8E0B"/><circle cx="667.01" cy="64.36" r="1.5" fill="#EE8E0B"/><circle cx="659.84" cy="67.66" r="1.5" fill="#EE8E0B"/><circle cx="660.98" cy="67.66" r="1.5" fill="#EE8E0B"/><circle cx="662.36" cy="67.66" r="1.5" fill="#EE8E0B"/><circle cx="662.83" cy="67.66" r="1.5" fill="#EE8E0B"/><circle cx="664.13" cy="67.66" r="1.5" fill="#EE8E0B"/><circle cx="665.24" cy="67.66" r="1.5" fill="#EE8E0B"/><circle cx="666.52" cy="67.66" r="1.5" fill="#EE8E0B"/><circle cx="667.51" cy="67.66" r="1.5" fill="#EE8E0B"/><circle cx="660.28" cy="70.96" r="1.5" fill="#EE8E0B"/><circle cx="660.90" cy="70.96" r="1.5" fill="#EE8E0B"/><circle cx="662.03" cy="70.96" r="1.5" fill="#EE8E0B"/><circle cx="663.03" cy="70.96" r="1.5" fill="#EE8E0B"/><circle cx="664.45" cy="70.96" r="1.5" fill="#EE8E0B"/><circle cx="665.54" cy="70.96" r="1.5" fill="#EE8E0B"/><circle cx="665.99" cy="70.96" r="1.5" fill="#EE8E0B"/><circle cx="667.05" cy="70.96" r="1.5" fill="#EE8E0B"/><circle cx="659.82" cy="74.26" r="1.5" fill="#EE8E0B"/><circle cx="660.86" cy="74.26" r="1.5" fill="#EE8E0B"/><circle cx="662.08" cy="74.26" r="1.5" fill="#EE8E0B"/><circle cx="663.20" cy="74.26" r="1.5" fill="#EE8E0B"/><circle cx="664.00" cy="74.26" r="1.5" fill="#EE8E0B"/><circle cx="664.85" cy="74.26" r="1.5" fill="#EE8E0B"/><circle cx="666.18" cy="74.26" r="1.5" fill="#EE8E0B"/><circle cx="667.19" cy="74.26" r="1.5" fill="#EE8E0B"/><circle cx="660.07" cy="77.55" r="1.5" fill="#EE8E0B"/><circle cx="661.39" cy="77.55" r="1.5" fill="#EE8E0B"/><circle cx="662.23" cy="77.55" r="1.5" fill="#EE8E0B"/><circle cx="663.14" cy="77.55" r="1.5" fill="#EE8E0B"/><circle cx="664.25" cy="77.55" r="1.5" fill="#EE8E0B"/><circle cx="665.33" cy="77.55" r="1.5" fill="#EE8E0B"/><circle cx="665.92" cy="77.55" r="1.5" fill="#EE8E0B"/><circle cx="667.57" cy="77.55" r="1.5" fill="#EE8E0B"/><circle cx="660.22" cy="80.85" r="1.5" fill="#EE8E0B"/><circle cx="661.33" cy="80.85" r="1.5" fill="#EE8E0B"/><circle cx="662.31" cy="80.85" r="1.5" fill="#EE8E0B"/><circle cx="663.05" cy="80.85" r="1.5" fill="#EE8E0B"/><circle cx="664.10" cy="80.85" r="1.5" fill="#EE8E0B"/><circle cx="664.92" cy="80.85" r="1.5" fill="#EE8E0B"/><circle cx="666.34" cy="80.85" r="1.5" fill="#EE8E0B"/><circle cx="666.96" cy="80.85" r="1.5" fill="#EE8E0B"/><circle cx="659.70" cy="84.15" r="1.5" fill="#EE8E0B"/><circle cx="660.84" cy="84.15" r="1.5" fill="#EE8E0B"/><circle cx="661.85" cy="84.15" r="1.5" fill="#EE8E0B"/><circle cx="663.02" cy="84.15" r="1.5" fill="#EE8E0B"/><circle cx="663.84" cy="84.15" r="1.5" fill="#EE8E0B"/><circle cx="664.84" cy="84.15" r="1.5" fill="#EE8E0B"/><circle cx="665.99" cy="84.15" r="1.5" fill="#EE8E0B"/><circle cx="666.99" cy="84.15" r="1.5" fill="#EE8E0B"/><circle cx="659.92" cy="87.45" r="1.5" fill="#EE8E0B"/><circle cx="660.71" cy="87.45" r="1.5" fill="#EE8E0B"/><circle cx="662.37" cy="87.45" r="1.5" fill="#EE8E0B"/><circle cx="663.21" cy="87.45" r="1.5" fill="#EE8E0B"/><circle cx="663.91" cy="87.45" r="1.5" fill="#EE8E0B"/><circle cx="665.03" cy="87.45" r="1.5" fill="#EE8E0B"/><circle cx="666.13" cy="87.45" r="1.5" fill="#EE8E0B"/><circle cx="667.18" cy="87.45" r="1.5" fill="#EE8E0B"/><circle cx="659.74" cy="90.75" r="1.5" fill="#EE8E0B"/><circle cx="661.31" cy="90.75" r="1.5" fill="#EE8E0B"/><circle cx="662.45" cy="90.75" r="1.5" fill="#EE8E0B"/><circle cx="663.11" cy="90.75" r="1.5" fill="#EE8E0B"/><circle cx="664.16" cy="90.75" r="1.5" fill="#EE8E0B"/><circle cx="664.91" cy="90.75" r="1.5" fill="#EE8E0B"/><circle cx="665.95" cy="90.75" r="1.5" fill="#EE8E0B"/><circle cx="667.17" cy="90.75" r="1.5" fill="#EE8E0B"/><circle cx="659.85" cy="94.04" r="1.5" fill="#EE8E0B"/><circle cx="661.30" cy="94.04" r="1.5" fill="#EE8E0B"/><circle cx="661.85" cy="94.04" r="1.5" fill="#EE8E0B"/><circle cx="662.78" cy="94.04" r="1.5" fill="#EE8E0B"/><circle cx="664.50" cy="94.04" r="1.5" fill="#EE8E0B"/><circle cx="665.23" cy="94.04" r="1.5" fill="#EE8E0B"/><circle cx="665.99" cy="94.04" r="1.5" fill="#EE8E0B"/><circle cx="667.31" cy="94.04" r="1.5" fill="#EE8E0B"/><circle cx="659.70" cy="97.34" r="1.5" fill="#EE8E0B"/><circle cx="661.30" cy="97.34" r="1.5" fill="#EE8E0B"/><circle cx="662.86" cy="97.34" r="1.5" fill="#EE8E0B"/><circle cx="663.95" cy="97.34" r="1.5" fill="#EE8E0B"/><circle cx="665.00" cy="97.34" r="1.5" fill="#EE8E0B"/><circle cx="665.82" cy="97.34" r="1.5" fill="#EE8E0B"/><circle cx="667.10" cy="97.34" r="1.5" fill="#EE8E0B"/><circle cx="659.82" cy="100.64" r="1.5" fill="#EE8E0B"/><circle cx="661.50" cy="100.64" r="1.5" fill="#EE8E0B"/><circle cx="662.49" cy="100.64" r="1.5" fill="#EE8E0B"/><circle cx="663.88" cy="100.64" r="1.5" fill="#EE8E0B"/><circle cx="664.69" cy="100.64" r="1.5" fill="#EE8E0B"/><circle cx="665.79" cy="100.64" r="1.5" fill="#EE8E0B"/><circle cx="667.47" cy="100.64" r="1.5" fill="#EE8E0B"/><circle cx="660.50" cy="103.94" r="1.5" fill="#EE8E0B"/><circle cx="661.57" cy="103.94" r="1.5" fill="#EE8E0B"/><circle cx="662.72" cy="103.94" r="1.5" fill="#EE8E0B"/><circle cx="663.91" cy="103.94" r="1.5" fill="#EE8E0B"/><circle cx="665.03" cy="103.94" r="1.5" fill="#EE8E0B"/><circle cx="665.79" cy="103.94" r="1.5" fill="#EE8E0B"/><circle cx="667.22" cy="103.94" r="1.5" fill="#EE8E0B"/><circle cx="660.05" cy="107.23" r="1.5" fill="#EE8E0B"/><circle cx="661.12" cy="107.23" r="1.5" fill="#EE8E0B"/><circle cx="662.50" cy="107.23" r="1.5" fill="#EE8E0B"/><circle cx="664.13" cy="107.23" r="1.5" fill="#EE8E0B"/><circle cx="665.49" cy="107.23" r="1.5" fill="#EE8E0B"/><circle cx="667.29" cy="107.23" r="1.5" fill="#EE8E0B"/><circle cx="660.63" cy="110.53" r="1.5" fill="#EE8E0B"/><circle cx="661.52" cy="110.53" r="1.5" fill="#EE8E0B"/><circle cx="663.38" cy="110.53" r="1.5" fill="#EE8E0B"/><circle cx="664.81" cy="110.53" r="1.5" fill="#EE8E0B"/><circle cx="666.17" cy="110.53" r="1.5" fill="#EE8E0B"/><circle cx="666.98" cy="110.53" r="1.5" fill="#EE8E0B"/><circle cx="661.00" cy="113.83" r="1.5" fill="#EE8E0B"/><circle cx="664.00" cy="113.83" r="1.5" fill="#EE8E0B"/><circle cx="667.00" cy="113.83" r="1.5" fill="#EE8E0B"/><circle cx="660.00" cy="117.12" r="1.5" fill="#EE8E0B"/><circle cx="663.00" cy="117.12" r="1.5" fill="#EE8E0B"/><circle cx="665.50" cy="117.12" r="1.5" fill="#EE8E0B"/><circle cx="661.00" cy="120.42" r="1.5" fill="#EE8E0B"/><circle cx="661.50" cy="123.72" r="1.5" fill="#EE8E0B"/><circle cx="667.50" cy="123.72" r="1.5" fill="#EE8E0B"/><circle cx="664.50" cy="127.02" r="1.5" fill="#EE8E0B"/><circle cx="666.00" cy="127.02" r="1.5" fill="#EE8E0B"/><circle cx="665.00" cy="130.31" r="1.5" fill="#EE8E0B"/><circle cx="666.00" cy="133.61" r="1.5" fill="#EE8E0B"/><circle cx="663.00" cy="136.91" r="1.5" fill="#EE8E0B"/><circle cx="660.20" cy="140.21" r="1.5" fill="#EE8E0B"/><circle cx="665.70" cy="140.21" r="1.5" fill="#EE8E0B"/><circle cx="661.50" cy="143.50" r="1.5" fill="#EE8E0B"/>
<line x1="348.3" y1="195.8" x2="348.3" y2="333" stroke="#EC7A6C" stroke-width="1.1" stroke-dasharray="4.7,3"/>
<rect x="271.7" y="199.65" width="52.70" height="18.8" rx="0.4" fill="#B6B7C5" stroke="#9798A4" stroke-width="1"/>
<rect x="271.7" y="235.80" width="89.80" height="18.8" rx="0.4" fill="#EEEEEE" stroke="#C6C6C6" stroke-width="1"/>
<rect x="271.7" y="271.80" width="67.10" height="18.8" rx="0.4" fill="#FDBD5F" stroke="#C9A064" stroke-width="1"/>
<rect x="271.7" y="308.20" width="58.90" height="18.8" rx="0.4" fill="#EE8F0B" stroke="#B47418" stroke-width="1"/>
<path d="M272.2,337.7 V332.85 H424.2 V337.7 M348.3,332.85 V337.7" fill="none" stroke="#666" stroke-width="1.2"/>
<text x="233.76" y="213" font-size="10.8" textLength="16.47" lengthAdjust="spacingAndGlyphs" fill="#333">HC</text>
<text x="186.70" y="249.2" font-size="10.8" textLength="63.11" lengthAdjust="spacingAndGlyphs" fill="#333">LRRK2 NMC</text>
<text x="197.33" y="285.7" font-size="10.8" textLength="51.67" lengthAdjust="spacingAndGlyphs" fill="#333">LRRK2 PD</text>
<text x="229.51" y="321.5" font-size="10.8" textLength="19.48" lengthAdjust="spacingAndGlyphs" fill="#333">sPD</text>
<text x="269.64" y="346.7" font-size="8.3" textLength="5.12" lengthAdjust="spacingAndGlyphs" fill="#333">0</text>
<text x="343.45" y="346.7" font-size="8.3" textLength="9.69" lengthAdjust="spacingAndGlyphs" fill="#333">50</text>
<text x="417.59" y="346.7" font-size="8.3" textLength="13.32" lengthAdjust="spacingAndGlyphs" fill="#333">100</text>
<text x="285.28" y="360.7" font-size="10.8" textLength="125.92" lengthAdjust="spacingAndGlyphs" fill="#333">Proportion of females [%]</text>
<line x1="471" y1="332.90" x2="476.2" y2="332.90" stroke="#333" stroke-width="0.9"/>
<text x="463.62" y="335.7" font-size="8.3" textLength="5.47" lengthAdjust="spacingAndGlyphs" fill="#333">0</text>
<line x1="471" y1="301.05" x2="476.2" y2="301.05" stroke="#333" stroke-width="0.9"/>
<text x="463.48" y="303.85" font-size="8.3" textLength="5.74" lengthAdjust="spacingAndGlyphs" fill="#333">2</text>
<line x1="471" y1="269.20" x2="476.2" y2="269.20" stroke="#333" stroke-width="0.9"/>
<text x="463.79" y="272.0" font-size="8.3" textLength="5.19" lengthAdjust="spacingAndGlyphs" fill="#333">4</text>
<line x1="471" y1="237.35" x2="476.2" y2="237.35" stroke="#333" stroke-width="0.9"/>
<text x="463.48" y="240.15" font-size="8.3" textLength="5.66" lengthAdjust="spacingAndGlyphs" fill="#333">6</text>
<line x1="471" y1="205.50" x2="476.2" y2="205.50" stroke="#333" stroke-width="0.9"/>
<text x="463.56" y="208.3" font-size="8.3" textLength="5.57" lengthAdjust="spacingAndGlyphs" fill="#333">8</text>
<text x="0" y="0" font-size="10.8" textLength="117.77" lengthAdjust="spacingAndGlyphs" fill="#333" transform="translate(456.6,319.50) rotate(-90)">Disease duration [years]</text>
<line x1="471.3" y1="332.85" x2="681.8" y2="332.85" stroke="#666" stroke-width="1.2"/>
<text x="514.62" y="351.7" font-size="10.8" textLength="52.39" lengthAdjust="spacingAndGlyphs" fill="#333">LRRK2 PD</text>
<text x="631.59" y="351.4" font-size="10.8" textLength="20.73" lengthAdjust="spacingAndGlyphs" fill="#333">sPD</text>
<path d="M520.70,189.10 C520.57,190.48 520.22,194.63 519.90,197.40 C519.58,200.17 519.25,202.95 518.80,205.70 C518.35,208.45 517.82,211.15 517.20,213.90 C516.58,216.65 515.97,219.78 515.10,222.20 C514.23,224.62 513.20,226.17 512.00,228.40 C510.80,230.63 509.10,233.37 507.90,235.60 C506.70,237.83 505.60,239.57 504.80,241.80 C504.00,244.03 503.42,246.77 503.10,249.00 C502.78,251.23 502.85,252.73 502.90,255.20 C502.95,257.67 503.37,261.08 503.40,263.80 C503.43,266.52 503.70,268.93 503.10,271.50 C502.50,274.07 501.08,276.62 499.80,279.20 C498.52,281.78 496.87,284.23 495.40,287.00 C493.93,289.77 491.98,293.05 491.00,295.80 C490.02,298.55 489.57,300.75 489.50,303.50 C489.43,306.25 489.80,309.55 490.60,312.30 C491.40,315.05 492.77,317.62 494.30,320.00 C495.83,322.38 498.33,325.02 499.80,326.60 C501.27,328.18 502.55,329.02 503.10,329.50 L523.6,329.50 L523.6,189.10 Z" fill="#FDBD5F" stroke="#555" stroke-width="0.8" stroke-linejoin="round"/>
<line x1="540.25" y1="188.7" x2="540.25" y2="330.8" stroke="#333" stroke-width="0.9"/><rect x="535.95" y="256" width="8.6" height="53.39999999999998" fill="#FDBD5F" stroke="#333" stroke-width="0.9"/><line x1="535.95" y1="291.1" x2="544.5500000000001" y2="291.1" stroke="#333" stroke-width="0.9"/>
<path d="M624.80,222.50 C624.58,223.93 623.92,228.47 623.50,231.10 C623.08,233.73 622.90,236.07 622.30,238.30 C621.70,240.53 621.03,242.72 619.90,244.50 C618.77,246.28 617.13,247.50 615.50,249.00 C613.87,250.50 611.60,252.00 610.10,253.50 C608.60,255.00 607.33,256.52 606.50,258.00 C605.67,259.48 605.17,260.92 605.10,262.40 C605.03,263.88 605.42,265.40 606.10,266.90 C606.78,268.40 608.08,269.83 609.20,271.40 C610.32,272.97 611.75,274.80 612.80,276.30 C613.85,277.80 615.00,278.83 615.50,280.40 C616.00,281.97 616.05,283.62 615.80,285.70 C615.55,287.78 614.65,290.20 614.00,292.90 C613.35,295.60 612.85,299.22 611.90,301.90 C610.95,304.58 609.80,306.92 608.30,309.00 C606.80,311.08 604.70,312.75 602.90,314.40 C601.10,316.05 598.98,317.57 597.50,318.90 C596.02,320.23 594.83,321.22 594.00,322.40 C593.17,323.58 592.57,324.80 592.50,326.00 C592.43,327.20 593.05,328.70 593.60,329.60 C594.15,330.50 595.43,331.10 595.80,331.40 L626.8,331.40 L626.8,222.50 Z" fill="#EE8F0B" stroke="#555" stroke-width="0.8" stroke-linejoin="round"/>
<line x1="643.1" y1="221.4" x2="643.1" y2="332" stroke="#333" stroke-width="0.9"/><rect x="638.65" y="265.2" width="8.9" height="62.30000000000001" fill="#EE8F0B" stroke="#333" stroke-width="0.9"/><line x1="638.65" y1="306.4" x2="647.55" y2="306.4" stroke="#333" stroke-width="0.9"/>
<circle cx="556.30" cy="189.10" r="1.5" fill="#FBB454"/>
<circle cx="557.30" cy="200.10" r="1.5" fill="#FBB454"/>
<circle cx="558.70" cy="208.10" r="1.5" fill="#FBB454"/>
<circle cx="563.50" cy="211.90" r="1.5" fill="#FBB454"/>
<circle cx="561.00" cy="216.00" r="1.5" fill="#FBB454"/>
<circle cx="562.00" cy="225.30" r="1.5" fill="#FBB454"/>
<circle cx="558.70" cy="237.10" r="1.5" fill="#FBB454"/>
<circle cx="561.40" cy="236.20" r="1.5" fill="#FBB454"/>
<circle cx="558.30" cy="240.80" r="1.5" fill="#FBB454"/>
<circle cx="560.80" cy="241.80" r="1.5" fill="#FBB454"/>
<circle cx="562.90" cy="242.90" r="1.5" fill="#FBB454"/>
<circle cx="564.10" cy="243.90" r="1.5" fill="#FBB454"/>
<circle cx="560.40" cy="247.60" r="1.5" fill="#FBB454"/>
<circle cx="564.50" cy="247.60" r="1.5" fill="#FBB454"/>
<circle cx="557.30" cy="250.70" r="1.5" fill="#FBB454"/>
<circle cx="558.30" cy="253.20" r="1.5" fill="#FBB454"/>
<circle cx="557.90" cy="256.30" r="1.5" fill="#FBB454"/>
<circle cx="557.90" cy="258.30" r="1.5" fill="#FBB454"/>
<circle cx="562.50" cy="255.20" r="1.5" fill="#FBB454"/>
<circle cx="563.50" cy="257.30" r="1.5" fill="#FBB454"/>
<circle cx="557.30" cy="257.20" r="1.5" fill="#FBB454"/>
<circle cx="558.00" cy="260.50" r="1.5" fill="#FBB454"/>
<circle cx="562.40" cy="258.30" r="1.5" fill="#FBB454"/>
<circle cx="563.00" cy="262.70" r="1.5" fill="#FBB454"/>
<circle cx="559.00" cy="266.00" r="1.5" fill="#FBB454"/>
<circle cx="560.20" cy="281.40" r="1.5" fill="#FBB454"/>
<circle cx="558.00" cy="284.70" r="1.5" fill="#FBB454"/>
<circle cx="561.30" cy="285.80" r="1.5" fill="#FBB454"/>
<circle cx="563.50" cy="288.00" r="1.5" fill="#FBB454"/>
<circle cx="559.00" cy="291.30" r="1.5" fill="#FBB454"/>
<circle cx="556.80" cy="293.50" r="1.5" fill="#FBB454"/>
<circle cx="562.40" cy="293.50" r="1.5" fill="#FBB454"/>
<circle cx="564.60" cy="294.60" r="1.5" fill="#FBB454"/>
<circle cx="558.00" cy="296.90" r="1.5" fill="#FBB454"/>
<circle cx="561.70" cy="299.00" r="1.5" fill="#FBB454"/>
<circle cx="563.50" cy="301.30" r="1.5" fill="#FBB454"/>
<circle cx="560.20" cy="303.50" r="1.5" fill="#FBB454"/>
<circle cx="561.30" cy="305.70" r="1.5" fill="#FBB454"/>
<circle cx="559.00" cy="307.90" r="1.5" fill="#FBB454"/>
<circle cx="562.40" cy="307.90" r="1.5" fill="#FBB454"/>
<circle cx="556.80" cy="311.20" r="1.5" fill="#FBB454"/>
<circle cx="563.50" cy="312.30" r="1.5" fill="#FBB454"/>
<circle cx="564.60" cy="314.00" r="1.5" fill="#FBB454"/>
<circle cx="556.80" cy="321.10" r="1.5" fill="#FBB454"/>
<circle cx="562.40" cy="320.00" r="1.5" fill="#FBB454"/>
<circle cx="558.00" cy="324.40" r="1.5" fill="#FBB454"/>
<circle cx="561.30" cy="325.50" r="1.5" fill="#FBB454"/>
<circle cx="559.00" cy="328.80" r="1.5" fill="#FBB454"/>
<circle cx="556.80" cy="327.20" r="1.5" fill="#FBB454"/>
<circle cx="560.00" cy="330.50" r="1.5" fill="#FBB454"/>
<circle cx="557.50" cy="318.00" r="1.5" fill="#FBB454"/>
<circle cx="563.00" cy="317.00" r="1.5" fill="#FBB454"/>
<circle cx="659.80" cy="222.50" r="1.5" fill="#EE8E0B"/>
<circle cx="662.90" cy="226.10" r="1.5" fill="#EE8E0B"/>
<circle cx="659.80" cy="227.90" r="1.5" fill="#EE8E0B"/>
<circle cx="663.90" cy="230.80" r="1.5" fill="#EE8E0B"/>
<circle cx="659.80" cy="234.30" r="1.5" fill="#EE8E0B"/>
<circle cx="661.60" cy="235.00" r="1.5" fill="#EE8E0B"/>
<circle cx="662.90" cy="236.10" r="1.5" fill="#EE8E0B"/>
<circle cx="666.10" cy="237.40" r="1.5" fill="#EE8E0B"/>
<circle cx="664.30" cy="239.20" r="1.5" fill="#EE8E0B"/>
<circle cx="665.20" cy="240.00" r="1.5" fill="#EE8E0B"/>
<circle cx="659.80" cy="249.90" r="1.5" fill="#EE8E0B"/>
<circle cx="665.20" cy="249.40" r="1.5" fill="#EE8E0B"/>
<circle cx="667.90" cy="250.80" r="1.5" fill="#EE8E0B"/>
<circle cx="667.00" cy="254.80" r="1.5" fill="#EE8E0B"/>
<circle cx="663.90" cy="276.80" r="1.5" fill="#EE8E0B"/>
<circle cx="667.00" cy="277.70" r="1.5" fill="#EE8E0B"/>
<circle cx="661.47" cy="258.86" r="1.5" fill="#EE8E0B"/>
<circle cx="661.28" cy="258.41" r="1.5" fill="#EE8E0B"/>
<circle cx="667.33" cy="264.81" r="1.5" fill="#EE8E0B"/>
<circle cx="663.67" cy="267.32" r="1.5" fill="#EE8E0B"/>
<circle cx="666.46" cy="265.16" r="1.5" fill="#EE8E0B"/>
<circle cx="665.25" cy="255.87" r="1.5" fill="#EE8E0B"/>
<circle cx="666.31" cy="268.06" r="1.5" fill="#EE8E0B"/>
<circle cx="663.66" cy="266.31" r="1.5" fill="#EE8E0B"/>
<circle cx="666.37" cy="258.05" r="1.5" fill="#EE8E0B"/>
<circle cx="666.47" cy="260.78" r="1.5" fill="#EE8E0B"/>
<circle cx="662.94" cy="268.71" r="1.5" fill="#EE8E0B"/>
<circle cx="667.74" cy="261.83" r="1.5" fill="#EE8E0B"/>
<circle cx="660.98" cy="266.01" r="1.5" fill="#EE8E0B"/>
<circle cx="660.82" cy="256.93" r="1.5" fill="#EE8E0B"/>
<circle cx="666.52" cy="268.01" r="1.5" fill="#EE8E0B"/>
<circle cx="666.69" cy="257.36" r="1.5" fill="#EE8E0B"/>
<circle cx="665.22" cy="268.80" r="1.5" fill="#EE8E0B"/>
<circle cx="664.27" cy="261.06" r="1.5" fill="#EE8E0B"/>
<circle cx="659.62" cy="257.02" r="1.5" fill="#EE8E0B"/>
<circle cx="665.15" cy="268.70" r="1.5" fill="#EE8E0B"/>
<circle cx="667.62" cy="263.57" r="1.5" fill="#EE8E0B"/>
<circle cx="667.08" cy="262.30" r="1.5" fill="#EE8E0B"/>
<circle cx="661.34" cy="267.16" r="1.5" fill="#EE8E0B"/>
<circle cx="662.05" cy="259.43" r="1.5" fill="#EE8E0B"/>
<circle cx="664.60" cy="259.23" r="1.5" fill="#EE8E0B"/>
<circle cx="663.15" cy="259.56" r="1.5" fill="#EE8E0B"/>
<circle cx="667.42" cy="257.02" r="1.5" fill="#EE8E0B"/>
<circle cx="663.49" cy="261.11" r="1.5" fill="#EE8E0B"/>
<circle cx="667.37" cy="264.30" r="1.5" fill="#EE8E0B"/>
<circle cx="667.48" cy="262.11" r="1.5" fill="#EE8E0B"/>
<circle cx="664.13" cy="263.24" r="1.5" fill="#EE8E0B"/>
<circle cx="659.66" cy="263.53" r="1.5" fill="#EE8E0B"/>
<circle cx="661.09" cy="262.39" r="1.5" fill="#EE8E0B"/>
<circle cx="666.45" cy="252.61" r="1.5" fill="#EE8E0B"/>
<circle cx="663.62" cy="257.92" r="1.5" fill="#EE8E0B"/>
<circle cx="664.34" cy="266.02" r="1.5" fill="#EE8E0B"/>
<circle cx="664.01" cy="260.68" r="1.5" fill="#EE8E0B"/>
<circle cx="666.32" cy="263.95" r="1.5" fill="#EE8E0B"/>
<circle cx="664.37" cy="256.42" r="1.5" fill="#EE8E0B"/>
<circle cx="661.91" cy="259.37" r="1.5" fill="#EE8E0B"/>
<circle cx="663.92" cy="266.56" r="1.5" fill="#EE8E0B"/>
<circle cx="666.11" cy="264.03" r="1.5" fill="#EE8E0B"/>
<circle cx="663.36" cy="268.09" r="1.5" fill="#EE8E0B"/>
<circle cx="663.90" cy="264.67" r="1.5" fill="#EE8E0B"/>
<circle cx="665.53" cy="263.38" r="1.5" fill="#EE8E0B"/>
<circle cx="664.14" cy="262.56" r="1.5" fill="#EE8E0B"/>
<circle cx="667.69" cy="262.92" r="1.5" fill="#EE8E0B"/>
<circle cx="667.13" cy="265.72" r="1.5" fill="#EE8E0B"/>
<circle cx="661.76" cy="268.40" r="1.5" fill="#EE8E0B"/>
<circle cx="667.71" cy="264.00" r="1.5" fill="#EE8E0B"/>
<circle cx="660.69" cy="267.31" r="1.5" fill="#EE8E0B"/>
<circle cx="663.35" cy="256.80" r="1.5" fill="#EE8E0B"/>
<circle cx="661.59" cy="255.52" r="1.5" fill="#EE8E0B"/>
<circle cx="665.32" cy="255.54" r="1.5" fill="#EE8E0B"/>
<circle cx="667.30" cy="266.69" r="1.5" fill="#EE8E0B"/>
<circle cx="665.73" cy="257.54" r="1.5" fill="#EE8E0B"/>
<circle cx="660.74" cy="265.25" r="1.5" fill="#EE8E0B"/>
<circle cx="667.92" cy="267.78" r="1.5" fill="#EE8E0B"/>
<circle cx="667.79" cy="258.85" r="1.5" fill="#EE8E0B"/>
<circle cx="663.74" cy="261.78" r="1.5" fill="#EE8E0B"/>
<circle cx="666.74" cy="268.90" r="1.5" fill="#EE8E0B"/>
<circle cx="663.25" cy="257.69" r="1.5" fill="#EE8E0B"/>
<circle cx="662.45" cy="263.42" r="1.5" fill="#EE8E0B"/>
<circle cx="662.27" cy="258.39" r="1.5" fill="#EE8E0B"/>
<circle cx="659.67" cy="265.98" r="1.5" fill="#EE8E0B"/>
<circle cx="663.33" cy="263.93" r="1.5" fill="#EE8E0B"/>
<circle cx="662.38" cy="253.53" r="1.5" fill="#EE8E0B"/>
<circle cx="663.96" cy="264.81" r="1.5" fill="#EE8E0B"/>
<circle cx="668.07" cy="255.28" r="1.5" fill="#EE8E0B"/>
<circle cx="667.95" cy="266.74" r="1.5" fill="#EE8E0B"/>
<circle cx="661.81" cy="256.39" r="1.5" fill="#EE8E0B"/>
<circle cx="666.28" cy="254.45" r="1.5" fill="#EE8E0B"/>
<circle cx="660.63" cy="259.76" r="1.5" fill="#EE8E0B"/>
<circle cx="667.43" cy="262.13" r="1.5" fill="#EE8E0B"/>
<circle cx="661.75" cy="267.08" r="1.5" fill="#EE8E0B"/>
<circle cx="667.50" cy="257.43" r="1.5" fill="#EE8E0B"/>
<circle cx="665.59" cy="264.14" r="1.5" fill="#EE8E0B"/>
<circle cx="660.00" cy="255.99" r="1.5" fill="#EE8E0B"/>
<circle cx="663.20" cy="265.59" r="1.5" fill="#EE8E0B"/>
<circle cx="667.66" cy="255.52" r="1.5" fill="#EE8E0B"/>
<circle cx="666.79" cy="319.82" r="1.5" fill="#EE8E0B"/>
<circle cx="667.29" cy="292.52" r="1.5" fill="#EE8E0B"/>
<circle cx="667.35" cy="291.04" r="1.5" fill="#EE8E0B"/>
<circle cx="662.59" cy="312.74" r="1.5" fill="#EE8E0B"/>
<circle cx="667.93" cy="316.75" r="1.5" fill="#EE8E0B"/>
<circle cx="660.68" cy="304.14" r="1.5" fill="#EE8E0B"/>
<circle cx="661.67" cy="315.72" r="1.5" fill="#EE8E0B"/>
<circle cx="660.97" cy="294.52" r="1.5" fill="#EE8E0B"/>
<circle cx="661.34" cy="289.49" r="1.5" fill="#EE8E0B"/>
<circle cx="662.28" cy="306.35" r="1.5" fill="#EE8E0B"/>
<circle cx="662.14" cy="324.24" r="1.5" fill="#EE8E0B"/>
<circle cx="661.12" cy="314.65" r="1.5" fill="#EE8E0B"/>
<circle cx="659.67" cy="308.03" r="1.5" fill="#EE8E0B"/>
<circle cx="659.64" cy="303.22" r="1.5" fill="#EE8E0B"/>
<circle cx="664.51" cy="323.33" r="1.5" fill="#EE8E0B"/>
<circle cx="663.82" cy="299.80" r="1.5" fill="#EE8E0B"/>
<circle cx="660.47" cy="329.97" r="1.5" fill="#EE8E0B"/>
<circle cx="663.43" cy="326.24" r="1.5" fill="#EE8E0B"/>
<circle cx="667.09" cy="314.45" r="1.5" fill="#EE8E0B"/>
<circle cx="664.11" cy="310.12" r="1.5" fill="#EE8E0B"/>
<circle cx="668.44" cy="321.74" r="1.5" fill="#EE8E0B"/>
<circle cx="667.07" cy="307.82" r="1.5" fill="#EE8E0B"/>
<circle cx="665.29" cy="322.41" r="1.5" fill="#EE8E0B"/>
<circle cx="662.66" cy="310.64" r="1.5" fill="#EE8E0B"/>
<circle cx="660.68" cy="289.89" r="1.5" fill="#EE8E0B"/>
<circle cx="666.24" cy="291.41" r="1.5" fill="#EE8E0B"/>
<circle cx="660.99" cy="303.50" r="1.5" fill="#EE8E0B"/>
<circle cx="667.16" cy="292.58" r="1.5" fill="#EE8E0B"/>
<circle cx="665.60" cy="327.93" r="1.5" fill="#EE8E0B"/>
<circle cx="661.70" cy="304.86" r="1.5" fill="#EE8E0B"/>
<circle cx="663.68" cy="305.42" r="1.5" fill="#EE8E0B"/>
<circle cx="663.56" cy="297.83" r="1.5" fill="#EE8E0B"/>
<circle cx="668.25" cy="303.90" r="1.5" fill="#EE8E0B"/>
<circle cx="664.48" cy="331.16" r="1.5" fill="#EE8E0B"/>
<circle cx="668.29" cy="302.90" r="1.5" fill="#EE8E0B"/>
<circle cx="662.74" cy="306.24" r="1.5" fill="#EE8E0B"/>
<circle cx="662.97" cy="281.84" r="1.5" fill="#EE8E0B"/>
<circle cx="664.08" cy="313.61" r="1.5" fill="#EE8E0B"/>
<circle cx="664.09" cy="300.47" r="1.5" fill="#EE8E0B"/>
<circle cx="661.90" cy="283.11" r="1.5" fill="#EE8E0B"/>
<circle cx="663.14" cy="293.01" r="1.5" fill="#EE8E0B"/>
<circle cx="659.70" cy="288.58" r="1.5" fill="#EE8E0B"/>
<circle cx="661.62" cy="305.97" r="1.5" fill="#EE8E0B"/>
<circle cx="664.32" cy="317.99" r="1.5" fill="#EE8E0B"/>
<circle cx="665.48" cy="323.93" r="1.5" fill="#EE8E0B"/>
<circle cx="667.50" cy="322.74" r="1.5" fill="#EE8E0B"/>
<circle cx="662.47" cy="309.97" r="1.5" fill="#EE8E0B"/>
<circle cx="660.86" cy="331.30" r="1.5" fill="#EE8E0B"/>
<circle cx="665.35" cy="323.02" r="1.5" fill="#EE8E0B"/>
<circle cx="667.10" cy="288.81" r="1.5" fill="#EE8E0B"/>
<circle cx="665.21" cy="328.62" r="1.5" fill="#EE8E0B"/>
<circle cx="666.89" cy="323.36" r="1.5" fill="#EE8E0B"/>
<circle cx="664.27" cy="296.63" r="1.5" fill="#EE8E0B"/>
<circle cx="667.10" cy="314.82" r="1.5" fill="#EE8E0B"/>
<circle cx="667.02" cy="325.77" r="1.5" fill="#EE8E0B"/>
<circle cx="667.62" cy="317.94" r="1.5" fill="#EE8E0B"/>
<circle cx="665.81" cy="321.57" r="1.5" fill="#EE8E0B"/>
<circle cx="659.78" cy="302.11" r="1.5" fill="#EE8E0B"/>
<circle cx="662.78" cy="296.21" r="1.5" fill="#EE8E0B"/>
<circle cx="667.11" cy="294.18" r="1.5" fill="#EE8E0B"/>
<circle cx="665.21" cy="316.96" r="1.5" fill="#EE8E0B"/>
<circle cx="665.69" cy="319.51" r="1.5" fill="#EE8E0B"/>
<circle cx="659.53" cy="314.21" r="1.5" fill="#EE8E0B"/>
<circle cx="666.31" cy="325.53" r="1.5" fill="#EE8E0B"/>
<circle cx="664.37" cy="314.77" r="1.5" fill="#EE8E0B"/>
<circle cx="660.10" cy="320.72" r="1.5" fill="#EE8E0B"/>
<circle cx="661.79" cy="323.46" r="1.5" fill="#EE8E0B"/>
<circle cx="661.92" cy="291.73" r="1.5" fill="#EE8E0B"/>
<circle cx="661.37" cy="323.20" r="1.5" fill="#EE8E0B"/>
<circle cx="668.38" cy="323.56" r="1.5" fill="#EE8E0B"/>
<circle cx="662.98" cy="314.40" r="1.5" fill="#EE8E0B"/>
<circle cx="665.72" cy="313.79" r="1.5" fill="#EE8E0B"/>
<circle cx="665.11" cy="324.49" r="1.5" fill="#EE8E0B"/>
<circle cx="660.20" cy="320.12" r="1.5" fill="#EE8E0B"/>
<circle cx="661.81" cy="297.17" r="1.5" fill="#EE8E0B"/>
<circle cx="662.27" cy="323.68" r="1.5" fill="#EE8E0B"/>
<circle cx="659.61" cy="317.31" r="1.5" fill="#EE8E0B"/>
<circle cx="661.95" cy="290.49" r="1.5" fill="#EE8E0B"/>
<circle cx="665.80" cy="321.18" r="1.5" fill="#EE8E0B"/>
<circle cx="662.15" cy="321.31" r="1.5" fill="#EE8E0B"/>
<circle cx="663.73" cy="315.31" r="1.5" fill="#EE8E0B"/>
<circle cx="660.58" cy="313.27" r="1.5" fill="#EE8E0B"/>
<circle cx="661.31" cy="328.67" r="1.5" fill="#EE8E0B"/>
<circle cx="668.02" cy="331.30" r="1.5" fill="#EE8E0B"/>
<circle cx="663.68" cy="285.50" r="1.5" fill="#EE8E0B"/>
<circle cx="668.31" cy="326.27" r="1.5" fill="#EE8E0B"/>
<circle cx="661.94" cy="312.56" r="1.5" fill="#EE8E0B"/>
<circle cx="668.10" cy="300.98" r="1.5" fill="#EE8E0B"/>
<circle cx="664.79" cy="301.03" r="1.5" fill="#EE8E0B"/>
<circle cx="664.27" cy="296.79" r="1.5" fill="#EE8E0B"/>
<circle cx="660.71" cy="330.54" r="1.5" fill="#EE8E0B"/>
<circle cx="664.13" cy="326.28" r="1.5" fill="#EE8E0B"/>
<circle cx="665.90" cy="328.46" r="1.5" fill="#EE8E0B"/>
<circle cx="667.67" cy="302.19" r="1.5" fill="#EE8E0B"/>
<circle cx="659.73" cy="314.08" r="1.5" fill="#EE8E0B"/>
<circle cx="663.97" cy="282.74" r="1.5" fill="#EE8E0B"/>
<circle cx="662.25" cy="312.62" r="1.5" fill="#EE8E0B"/>
<circle cx="662.63" cy="296.72" r="1.5" fill="#EE8E0B"/>
<circle cx="667.15" cy="306.55" r="1.5" fill="#EE8E0B"/>
<circle cx="666.33" cy="282.13" r="1.5" fill="#EE8E0B"/>
<circle cx="660.59" cy="326.91" r="1.5" fill="#EE8E0B"/>
<circle cx="665.99" cy="329.71" r="1.5" fill="#EE8E0B"/>
<circle cx="662.14" cy="328.93" r="1.5" fill="#EE8E0B"/>
<circle cx="663.08" cy="309.19" r="1.5" fill="#EE8E0B"/>
<circle cx="664.86" cy="331.30" r="1.5" fill="#EE8E0B"/>
<circle cx="663.40" cy="308.66" r="1.5" fill="#EE8E0B"/>
<circle cx="659.94" cy="304.51" r="1.5" fill="#EE8E0B"/>
<circle cx="667.10" cy="293.94" r="1.5" fill="#EE8E0B"/>
<circle cx="668.01" cy="305.05" r="1.5" fill="#EE8E0B"/>
<circle cx="661.92" cy="303.16" r="1.5" fill="#EE8E0B"/>
<circle cx="661.23" cy="315.09" r="1.5" fill="#EE8E0B"/>
<circle cx="668.20" cy="309.24" r="1.5" fill="#EE8E0B"/>
<circle cx="666.89" cy="328.37" r="1.5" fill="#EE8E0B"/>
<circle cx="667.81" cy="319.69" r="1.5" fill="#EE8E0B"/>
<circle cx="664.50" cy="330.16" r="1.5" fill="#EE8E0B"/>
<circle cx="659.95" cy="322.86" r="1.5" fill="#EE8E0B"/>
<circle cx="663.60" cy="323.31" r="1.5" fill="#EE8E0B"/>
<circle cx="665.36" cy="324.01" r="1.5" fill="#EE8E0B"/>
<circle cx="659.95" cy="305.08" r="1.5" fill="#EE8E0B"/>
<circle cx="660.66" cy="329.73" r="1.5" fill="#EE8E0B"/>
<circle cx="662.63" cy="313.51" r="1.5" fill="#EE8E0B"/>
<circle cx="666.23" cy="305.65" r="1.5" fill="#EE8E0B"/>
<circle cx="661.87" cy="331.27" r="1.5" fill="#EE8E0B"/>
<circle cx="662.24" cy="320.60" r="1.5" fill="#EE8E0B"/>
<circle cx="663.09" cy="316.91" r="1.5" fill="#EE8E0B"/>
<circle cx="660.97" cy="298.45" r="1.5" fill="#EE8E0B"/>
<circle cx="667.74" cy="300.87" r="1.5" fill="#EE8E0B"/>
<circle cx="661.50" cy="314.53" r="1.5" fill="#EE8E0B"/>
<circle cx="668.57" cy="329.08" r="1.5" fill="#EE8E0B"/>
<circle cx="660.77" cy="312.58" r="1.5" fill="#EE8E0B"/>
<circle cx="660.33" cy="299.97" r="1.5" fill="#EE8E0B"/>
<circle cx="660.33" cy="307.79" r="1.5" fill="#EE8E0B"/>
<circle cx="661.85" cy="302.61" r="1.5" fill="#EE8E0B"/>
<circle cx="667.57" cy="317.38" r="1.5" fill="#EE8E0B"/>
<circle cx="663.26" cy="323.90" r="1.5" fill="#EE8E0B"/>
<circle cx="664.27" cy="311.04" r="1.5" fill="#EE8E0B"/>
<circle cx="662.58" cy="309.40" r="1.5" fill="#EE8E0B"/>
<circle cx="662.03" cy="290.62" r="1.5" fill="#EE8E0B"/>
<circle cx="660.65" cy="331.00" r="1.5" fill="#EE8E0B"/>
<circle cx="665.23" cy="314.78" r="1.5" fill="#EE8E0B"/>
<circle cx="661.47" cy="327.68" r="1.5" fill="#EE8E0B"/>
<circle cx="661.76" cy="304.30" r="1.5" fill="#EE8E0B"/>
<circle cx="663.56" cy="310.42" r="1.5" fill="#EE8E0B"/>
<circle cx="667.22" cy="330.58" r="1.5" fill="#EE8E0B"/>
<circle cx="659.70" cy="328.01" r="1.5" fill="#EE8E0B"/>
<circle cx="665.96" cy="287.50" r="1.5" fill="#EE8E0B"/>
<circle cx="663.81" cy="328.74" r="1.5" fill="#EE8E0B"/>
<circle cx="659.50" cy="318.05" r="1.5" fill="#EE8E0B"/>
<circle cx="667.93" cy="310.06" r="1.5" fill="#EE8E0B"/>
<circle cx="667.28" cy="326.46" r="1.5" fill="#EE8E0B"/>
<circle cx="661.76" cy="331.15" r="1.5" fill="#EE8E0B"/>
<circle cx="660.90" cy="294.49" r="1.5" fill="#EE8E0B"/>
<circle cx="665.71" cy="315.54" r="1.5" fill="#EE8E0B"/>
<circle cx="666.07" cy="330.19" r="1.5" fill="#EE8E0B"/>
<circle cx="666.46" cy="320.29" r="1.5" fill="#EE8E0B"/>
<circle cx="664.52" cy="312.89" r="1.5" fill="#EE8E0B"/>
<circle cx="666.62" cy="288.34" r="1.5" fill="#EE8E0B"/>
<circle cx="667.87" cy="302.26" r="1.5" fill="#EE8E0B"/>
<circle cx="662.26" cy="320.22" r="1.5" fill="#EE8E0B"/>
<circle cx="661.79" cy="295.85" r="1.5" fill="#EE8E0B"/>
<circle cx="665.86" cy="319.88" r="1.5" fill="#EE8E0B"/>
<circle cx="660.14" cy="294.72" r="1.5" fill="#EE8E0B"/>
<circle cx="664.80" cy="315.62" r="1.5" fill="#EE8E0B"/>
<circle cx="661.53" cy="309.90" r="1.5" fill="#EE8E0B"/>
<circle cx="659.60" cy="318.58" r="1.5" fill="#EE8E0B"/>
<circle cx="663.69" cy="305.84" r="1.5" fill="#EE8E0B"/>
<circle cx="665.37" cy="330.73" r="1.5" fill="#EE8E0B"/>
<circle cx="663.83" cy="328.36" r="1.5" fill="#EE8E0B"/>
<circle cx="661.75" cy="302.38" r="1.5" fill="#EE8E0B"/>
<circle cx="665.91" cy="330.79" r="1.5" fill="#EE8E0B"/>
<circle cx="659.70" cy="306.13" r="1.5" fill="#EE8E0B"/>
<circle cx="665.64" cy="314.58" r="1.5" fill="#EE8E0B"/>
<circle cx="661.84" cy="311.31" r="1.5" fill="#EE8E0B"/>
<circle cx="667.92" cy="321.01" r="1.5" fill="#EE8E0B"/>
<circle cx="659.81" cy="301.94" r="1.5" fill="#EE8E0B"/>
<circle cx="663.33" cy="307.60" r="1.5" fill="#EE8E0B"/>
<circle cx="661.30" cy="321.56" r="1.5" fill="#EE8E0B"/>
<circle cx="666.23" cy="325.51" r="1.5" fill="#EE8E0B"/>
<circle cx="661.37" cy="314.84" r="1.5" fill="#EE8E0B"/>
<circle cx="662.34" cy="331.07" r="1.5" fill="#EE8E0B"/>
<circle cx="661.60" cy="326.28" r="1.5" fill="#EE8E0B"/>
<circle cx="666.42" cy="301.64" r="1.5" fill="#EE8E0B"/>
<circle cx="668.16" cy="305.51" r="1.5" fill="#EE8E0B"/>
<circle cx="661.20" cy="314.48" r="1.5" fill="#EE8E0B"/>
<circle cx="663.29" cy="301.75" r="1.5" fill="#EE8E0B"/>
<circle cx="668.13" cy="320.94" r="1.5" fill="#EE8E0B"/>
<circle cx="663.08" cy="297.10" r="1.5" fill="#EE8E0B"/>
<circle cx="668.36" cy="301.16" r="1.5" fill="#EE8E0B"/>
<circle cx="659.97" cy="296.80" r="1.5" fill="#EE8E0B"/>
<circle cx="663.08" cy="290.44" r="1.5" fill="#EE8E0B"/>
<circle cx="667.54" cy="328.82" r="1.5" fill="#EE8E0B"/>
<circle cx="668.58" cy="323.32" r="1.5" fill="#EE8E0B"/>
<circle cx="662.50" cy="329.88" r="1.5" fill="#EE8E0B"/>
<circle cx="668.02" cy="299.56" r="1.5" fill="#EE8E0B"/>
<circle cx="659.79" cy="323.79" r="1.5" fill="#EE8E0B"/>
<circle cx="662.95" cy="320.91" r="1.5" fill="#EE8E0B"/>
<circle cx="662.52" cy="309.26" r="1.5" fill="#EE8E0B"/>
<circle cx="659.53" cy="298.57" r="1.5" fill="#EE8E0B"/>
<circle cx="662.70" cy="304.75" r="1.5" fill="#EE8E0B"/>
<circle cx="660.63" cy="330.63" r="1.5" fill="#EE8E0B"/>
<circle cx="661.39" cy="330.90" r="1.5" fill="#EE8E0B"/>
<circle cx="666.98" cy="308.47" r="1.5" fill="#EE8E0B"/>
<circle cx="663.44" cy="326.34" r="1.5" fill="#EE8E0B"/>
<circle cx="663.81" cy="289.38" r="1.5" fill="#EE8E0B"/>
<circle cx="667.87" cy="309.21" r="1.5" fill="#EE8E0B"/>
<circle cx="662.81" cy="300.01" r="1.5" fill="#EE8E0B"/>
<circle cx="659.78" cy="328.78" r="1.5" fill="#EE8E0B"/>
<circle cx="666.89" cy="310.91" r="1.5" fill="#EE8E0B"/>
<circle cx="659.87" cy="324.48" r="1.5" fill="#EE8E0B"/>
<circle cx="660.07" cy="287.81" r="1.5" fill="#EE8E0B"/>
<circle cx="661.84" cy="329.51" r="1.5" fill="#EE8E0B"/>
<circle cx="667.68" cy="323.82" r="1.5" fill="#EE8E0B"/>
<circle cx="661.98" cy="307.65" r="1.5" fill="#EE8E0B"/>
<circle cx="665.11" cy="330.69" r="1.5" fill="#EE8E0B"/>
<circle cx="666.02" cy="303.84" r="1.5" fill="#EE8E0B"/>
<circle cx="662.01" cy="306.57" r="1.5" fill="#EE8E0B"/>
<circle cx="666.38" cy="282.79" r="1.5" fill="#EE8E0B"/>
<circle cx="665.27" cy="329.40" r="1.5" fill="#EE8E0B"/>
<circle cx="659.72" cy="330.24" r="1.5" fill="#EE8E0B"/>
<circle cx="663.82" cy="302.33" r="1.5" fill="#EE8E0B"/>
<circle cx="668.18" cy="330.67" r="1.5" fill="#EE8E0B"/>
<circle cx="661.78" cy="309.83" r="1.5" fill="#EE8E0B"/>
<circle cx="663.99" cy="311.73" r="1.5" fill="#EE8E0B"/>
<circle cx="661.16" cy="329.77" r="1.5" fill="#EE8E0B"/>
<circle cx="666.22" cy="325.70" r="1.5" fill="#EE8E0B"/>
<circle cx="666.53" cy="326.37" r="1.5" fill="#EE8E0B"/>
<circle cx="662.48" cy="318.81" r="1.5" fill="#EE8E0B"/>
<circle cx="662.79" cy="306.72" r="1.5" fill="#EE8E0B"/>
<circle cx="660.22" cy="325.01" r="1.5" fill="#EE8E0B"/>
<circle cx="666.35" cy="300.26" r="1.5" fill="#EE8E0B"/>
<circle cx="660.09" cy="303.06" r="1.5" fill="#EE8E0B"/>
<circle cx="664.53" cy="287.69" r="1.5" fill="#EE8E0B"/>
<circle cx="668.42" cy="307.02" r="1.5" fill="#EE8E0B"/>
<circle cx="668.49" cy="328.35" r="1.5" fill="#EE8E0B"/>
<circle cx="660.27" cy="303.98" r="1.5" fill="#EE8E0B"/>
<circle cx="664.04" cy="293.53" r="1.5" fill="#EE8E0B"/>
<circle cx="663.57" cy="322.52" r="1.5" fill="#EE8E0B"/>
<circle cx="663.29" cy="302.35" r="1.5" fill="#EE8E0B"/>
<circle cx="665.63" cy="319.29" r="1.5" fill="#EE8E0B"/>
<circle cx="667.21" cy="323.85" r="1.5" fill="#EE8E0B"/>
<circle cx="660.60" cy="320.91" r="1.5" fill="#EE8E0B"/>
<circle cx="662.17" cy="326.96" r="1.5" fill="#EE8E0B"/>
<circle cx="662.89" cy="317.28" r="1.5" fill="#EE8E0B"/>
<circle cx="661.31" cy="323.50" r="1.5" fill="#EE8E0B"/>
<circle cx="661.73" cy="303.06" r="1.5" fill="#EE8E0B"/>
<circle cx="667.55" cy="297.56" r="1.5" fill="#EE8E0B"/>
<circle cx="662.47" cy="317.72" r="1.5" fill="#EE8E0B"/>
<circle cx="668.53" cy="310.26" r="1.5" fill="#EE8E0B"/>
<circle cx="661.61" cy="314.94" r="1.5" fill="#EE8E0B"/>
<circle cx="665.45" cy="325.89" r="1.5" fill="#EE8E0B"/>
<circle cx="660.43" cy="331.30" r="1.5" fill="#EE8E0B"/>
<circle cx="666.95" cy="313.62" r="1.5" fill="#EE8E0B"/>
<circle cx="667.82" cy="326.95" r="1.5" fill="#EE8E0B"/>
<circle cx="662.17" cy="288.43" r="1.5" fill="#EE8E0B"/>
<circle cx="661.23" cy="295.24" r="1.5" fill="#EE8E0B"/>
<circle cx="664.81" cy="331.17" r="1.5" fill="#EE8E0B"/>
<circle cx="662.89" cy="329.83" r="1.5" fill="#EE8E0B"/>
<circle cx="663.59" cy="327.79" r="1.5" fill="#EE8E0B"/>
<circle cx="666.58" cy="303.72" r="1.5" fill="#EE8E0B"/>
<circle cx="660.46" cy="330.32" r="1.5" fill="#EE8E0B"/>
<circle cx="665.14" cy="318.39" r="1.5" fill="#EE8E0B"/>
<circle cx="662.86" cy="301.43" r="1.5" fill="#EE8E0B"/>
<circle cx="661.36" cy="296.77" r="1.5" fill="#EE8E0B"/>
<circle cx="664.95" cy="303.46" r="1.5" fill="#EE8E0B"/>
<circle cx="661.35" cy="320.44" r="1.5" fill="#EE8E0B"/>
<circle cx="662.48" cy="284.48" r="1.5" fill="#EE8E0B"/>
<circle cx="661.18" cy="321.40" r="1.5" fill="#EE8E0B"/>
<circle cx="661.35" cy="306.36" r="1.5" fill="#EE8E0B"/>
<circle cx="664.49" cy="325.45" r="1.5" fill="#EE8E0B"/>
<circle cx="660.42" cy="290.73" r="1.5" fill="#EE8E0B"/>
</svg></body></html>
